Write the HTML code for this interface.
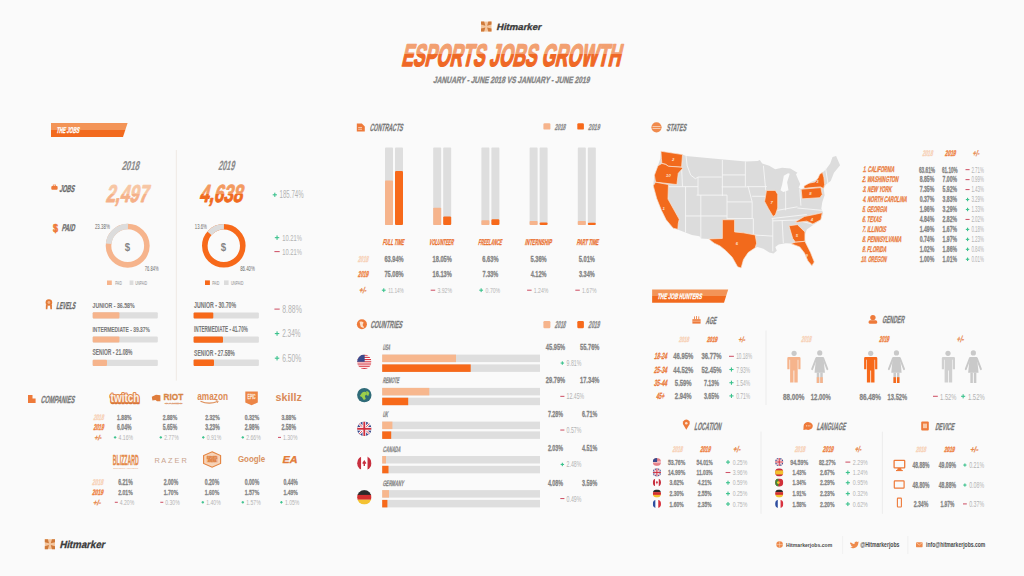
<!DOCTYPE html>
<html><head><meta charset="utf-8"><title>Esports Jobs Growth</title>
<style>
html,body{margin:0;padding:0;background:#fafafa;}
body{width:1024px;height:576px;overflow:hidden;}
svg{display:block;font-family:"Liberation Sans", sans-serif;}
</style></head><body>
<svg width="1024" height="576" viewBox="0 0 1024 576">
<rect x="0" y="0" width="1024" height="576" fill="#fafafa" />
<defs>
<linearGradient id="gTitle" gradientUnits="userSpaceOnUse" x1="0" y1="43" x2="0" y2="67">
<stop offset="0" stop-color="#f2a071"/><stop offset="0.46" stop-color="#f2a071"/><stop offset="0.46" stop-color="#ef6826"/><stop offset="1" stop-color="#ef6826"/></linearGradient>
<linearGradient id="gBan1" gradientUnits="userSpaceOnUse" x1="0" y1="123" x2="0" y2="137">
<stop offset="0" stop-color="#f39457"/><stop offset="0.48" stop-color="#f39457"/><stop offset="0.48" stop-color="#f26a1e"/><stop offset="1" stop-color="#f26a1e"/></linearGradient>
<linearGradient id="gBan2" gradientUnits="userSpaceOnUse" x1="0" y1="289.4" x2="0" y2="302.8">
<stop offset="0" stop-color="#f39457"/><stop offset="0.48" stop-color="#f39457"/><stop offset="0.48" stop-color="#f26a1e"/><stop offset="1" stop-color="#f26a1e"/></linearGradient>
<linearGradient id="g2497" gradientUnits="userSpaceOnUse" x1="0" y1="184" x2="0" y2="203">
<stop offset="0" stop-color="#f7c6a4"/><stop offset="0.5" stop-color="#f7c6a4"/><stop offset="0.5" stop-color="#f5b088"/><stop offset="1" stop-color="#f5b088"/></linearGradient>
<linearGradient id="g4638" gradientUnits="userSpaceOnUse" x1="0" y1="184" x2="0" y2="203">
<stop offset="0" stop-color="#f39a60"/><stop offset="0.5" stop-color="#f39a60"/><stop offset="0.5" stop-color="#f06a20"/><stop offset="1" stop-color="#f06a20"/></linearGradient>
</defs>
<rect x="481" y="21.6" width="10.5" height="10" fill="#f4c7a0" />
<polygon points="481,21.6 484.15,21.6 485.35,25.7 481,24.6" fill="#cf7a3a" />
<polygon points="491.5,21.6 488.35,21.6 487.15,25.7 491.5,24.6" fill="#cf7a3a" />
<polygon points="481,31.6 484.15,31.6 485.35,27.5 481,28.6" fill="#cf7a3a" />
<polygon points="491.5,31.6 488.35,31.6 487.15,27.5 491.5,28.6" fill="#cf7a3a" />
<text x="496.2" y="29.8" font-size="9.24" textLength="44.84" lengthAdjust="spacingAndGlyphs" fill="#3b3b3b" style="font-weight:bold" transform="matrix(1,0,-0.23,1,6.85,0)"  stroke="#3b3b3b" stroke-width="0.3" stroke-linejoin="round">Hitmarker</text>
<text x="401" y="66.4" font-size="31.21" textLength="219.09" lengthAdjust="spacingAndGlyphs" fill="url(#gTitle)" style="font-weight:bold" transform="matrix(1,0,-0.23,1,15.27,0)" stroke="url(#gTitle)" stroke-width="1.6" stroke-linejoin="round">ESPORTS JOBS GROWTH</text>
<text x="433.1" y="83.4" font-size="9.21" textLength="156.26" lengthAdjust="spacingAndGlyphs" fill="#858585" style="font-weight:bold" transform="matrix(1,0,-0.23,1,19.18,0)" stroke="#858585" stroke-width="0.35">JANUARY - JUNE 2018 VS JANUARY - JUNE 2019</text>
<polygon points="51,123 127.6,123 123,137 51,137" fill="url(#gBan1)" />
<text x="56.3" y="133" font-size="8.5" textLength="22.62" lengthAdjust="spacingAndGlyphs" fill="#ffffff" style="font-weight:bold" transform="matrix(1,0,-0.23,1,30.59,0)"  stroke="#ffffff" stroke-width="0.3" stroke-linejoin="round">THE JOBS</text>
<line x1="176.3" y1="150" x2="176.3" y2="380.6" stroke="#efe9e4" stroke-width="1"/>
<text x="121.4" y="170.1" font-size="12.79" textLength="17.57" lengthAdjust="spacingAndGlyphs" fill="#8a8a8a" style="font-weight:bold" transform="matrix(1,0,-0.23,1,39.12,0)"  stroke="#8a8a8a" stroke-width="0.15" stroke-linejoin="round">2018</text>
<text x="217.9" y="170" font-size="13.21" textLength="16.34" lengthAdjust="spacingAndGlyphs" fill="#8a8a8a" style="font-weight:bold" transform="matrix(1,0,-0.23,1,39.1,0)"  stroke="#8a8a8a" stroke-width="0.15" stroke-linejoin="round">2019</text>
<rect x="51.3" y="186" width="6.3" height="3.8" fill="#ee7a3a" rx="1" />
<rect x="53.2" y="185" width="2.5" height="1.6" fill="none" stroke="#ee7a3a" stroke-width="0.7"/>
<text x="59.2" y="191.8" font-size="9.93" textLength="15" lengthAdjust="spacingAndGlyphs" fill="#6a6a6a" style="font-weight:bold" transform="matrix(1,0,-0.23,1,44.11,0)"  stroke="#6a6a6a" stroke-width="0.3" stroke-linejoin="round">JOBS</text>
<text x="105.4" y="201.9" font-size="24.36" textLength="42.52" lengthAdjust="spacingAndGlyphs" fill="url(#g2497)" style="font-weight:bold" transform="matrix(1,0,-0.23,1,46.44,0)" stroke="url(#g2497)" stroke-width="0.9" stroke-linejoin="round">2,497</text>
<text x="199.1" y="202.2" font-size="24.79" textLength="43.08" lengthAdjust="spacingAndGlyphs" fill="url(#g4638)" style="font-weight:bold" transform="matrix(1,0,-0.23,1,46.51,0)" stroke="url(#g4638)" stroke-width="0.9" stroke-linejoin="round">4,638</text>
<rect x="272.7" y="194.25" width="4.2" height="1.1" fill="#3cc28d" />
<rect x="274.25" y="192.7" width="1.1" height="4.2" fill="#3cc28d" />
<text x="279.6" y="198.4" font-size="10.36" textLength="24" lengthAdjust="spacingAndGlyphs" fill="#b3b3b3" style="font-weight:normal" >185.74%</text>
<text x="53" y="231.8" font-size="10.31" textLength="5" lengthAdjust="spacingAndGlyphs" fill="#ee7a3a" style="font-weight:bold"  stroke="#ee7a3a" stroke-width="0.6" stroke-linejoin="round">$</text>
<text x="61.4" y="231.4" font-size="9.93" textLength="13.1" lengthAdjust="spacingAndGlyphs" fill="#6a6a6a" style="font-weight:bold" transform="matrix(1,0,-0.23,1,53.22,0)"  stroke="#6a6a6a" stroke-width="0.3" stroke-linejoin="round">PAID</text>
<circle cx="127.7" cy="245.7" r="19.2" fill="none" stroke="#f6b48c" stroke-width="5.6"/>
<circle cx="127.7" cy="245.7" r="19.2" fill="none" stroke="#dcdcdc" stroke-width="5.6" stroke-dasharray="28.2 120.64" transform="rotate(-174.17 127.7 245.7)"/>
<text x="124.8" y="250.8" font-size="11.06" textLength="5.4" lengthAdjust="spacingAndGlyphs" fill="#858585" style="font-weight:bold" >$</text>
<text x="94.9" y="228.7" font-size="6.64" textLength="14.9" lengthAdjust="spacingAndGlyphs" fill="#6a6a6a" style="font-weight:normal" >23.38%</text>
<text x="144.8" y="270.9" font-size="6.93" textLength="13.7" lengthAdjust="spacingAndGlyphs" fill="#6a6a6a" style="font-weight:normal" >76.84%</text>
<rect x="107" y="280.5" width="4.8" height="4.5" fill="#f6b48c" />
<text x="115.2" y="284.7" font-size="5.07" textLength="6.6" lengthAdjust="spacingAndGlyphs" fill="#8a8a8a" style="font-weight:normal" >PAID</text>
<rect x="129.6" y="280.5" width="3.8" height="4.5" fill="#dcdcdc" />
<text x="135.2" y="284.7" font-size="5.07" textLength="12" lengthAdjust="spacingAndGlyphs" fill="#8a8a8a" style="font-weight:normal" >UNPAID</text>
<circle cx="223.8" cy="245.8" r="19" fill="none" stroke="#f7691a" stroke-width="5.6"/>
<circle cx="223.8" cy="245.8" r="19" fill="none" stroke="#dcdcdc" stroke-width="5.6" stroke-dasharray="16.24 119.38" transform="rotate(-138.96 223.8 245.8)"/>
<text x="220.8" y="250.8" font-size="11.06" textLength="5.4" lengthAdjust="spacingAndGlyphs" fill="#858585" style="font-weight:bold" >$</text>
<text x="194.8" y="229" font-size="6.93" textLength="12" lengthAdjust="spacingAndGlyphs" fill="#6a6a6a" style="font-weight:normal" >13.6%</text>
<text x="240.2" y="271" font-size="6.93" textLength="14.6" lengthAdjust="spacingAndGlyphs" fill="#6a6a6a" style="font-weight:normal" >86.40%</text>
<rect x="205" y="280.4" width="4.9" height="4.6" fill="#f7691a" />
<text x="212.2" y="284.7" font-size="5.07" textLength="7.2" lengthAdjust="spacingAndGlyphs" fill="#8a8a8a" style="font-weight:normal" >PAID</text>
<rect x="224" y="280.4" width="4.6" height="4.6" fill="#dcdcdc" />
<text x="230.9" y="284.7" font-size="5.07" textLength="12.5" lengthAdjust="spacingAndGlyphs" fill="#8a8a8a" style="font-weight:normal" >UNPAID</text>
<rect x="274.82" y="237.1" width="4.45" height="1.1" fill="#3cc28d" />
<rect x="276.5" y="235.42" width="1.1" height="4.45" fill="#3cc28d" />
<text x="282.2" y="240.7" font-size="8.79" textLength="19.6" lengthAdjust="spacingAndGlyphs" fill="#b3b3b3" style="font-weight:normal" >10.21%</text>
<rect x="274.4" y="251.07" width="5.3" height="1.05" fill="#cf5468" />
<text x="282.2" y="255" font-size="9.79" textLength="19.6" lengthAdjust="spacingAndGlyphs" fill="#b3b3b3" style="font-weight:normal" >10.21%</text>
<polygon points="45.9,304.5 47.8,305.2 47.4,309.3 45.8,309.3" fill="#df7a3a" />
<polygon points="51.9,304.5 50,305.2 50.4,309.3 52,309.3" fill="#df7a3a" />
<circle cx="48.9" cy="302.5" r="3.3" fill="#e37b38" />
<circle cx="48.9" cy="302.5" r="1.4" fill="#f6b58a" />
<text x="56.1" y="308.7" font-size="10.07" textLength="18.89" lengthAdjust="spacingAndGlyphs" fill="#6a6a6a" style="font-weight:bold" transform="matrix(1,0,-0.23,1,71,0)"  stroke="#6a6a6a" stroke-width="0.3" stroke-linejoin="round">LEVELS</text>
<text x="92.5" y="307.8" font-size="8.07" textLength="42.1" lengthAdjust="spacingAndGlyphs" fill="#7a7a7a" style="font-weight:bold"  stroke="#7a7a7a" stroke-width="0.1" stroke-linejoin="round">JUNIOR - 36.58%</text>
<rect x="92.7" y="312.2" width="65.1" height="6.2" fill="#dedede" rx="1" />
<rect x="92.7" y="312.2" width="26.7" height="6.2" fill="#f6b48c" rx="1" />
<text x="92.5" y="331.8" font-size="8.07" textLength="57.3" lengthAdjust="spacingAndGlyphs" fill="#7a7a7a" style="font-weight:bold"  stroke="#7a7a7a" stroke-width="0.1" stroke-linejoin="round">INTERMEDIATE - 39.37%</text>
<rect x="92.7" y="336.4" width="65.1" height="6.2" fill="#dedede" rx="1" />
<rect x="92.7" y="336.4" width="26.7" height="6.2" fill="#f6b48c" rx="1" />
<text x="92.5" y="355.4" font-size="8.64" textLength="40" lengthAdjust="spacingAndGlyphs" fill="#7a7a7a" style="font-weight:bold"  stroke="#7a7a7a" stroke-width="0.1" stroke-linejoin="round">SENIOR - 21.08%</text>
<rect x="92.7" y="359.8" width="65.1" height="6.2" fill="#dedede" rx="1" />
<rect x="92.7" y="359.8" width="14.3" height="6.2" fill="#f6b48c" rx="1" />
<text x="194.1" y="308.2" font-size="8.36" textLength="42" lengthAdjust="spacingAndGlyphs" fill="#7a7a7a" style="font-weight:bold"  stroke="#7a7a7a" stroke-width="0.1" stroke-linejoin="round">JUNIOR - 30.70%</text>
<rect x="193.6" y="312.4" width="65.3" height="6.2" fill="#dedede" rx="1" />
<rect x="193.6" y="312.4" width="19.7" height="6.2" fill="#f7691a" rx="1" />
<text x="194.1" y="331.8" font-size="8.36" textLength="53.7" lengthAdjust="spacingAndGlyphs" fill="#7a7a7a" style="font-weight:bold"  stroke="#7a7a7a" stroke-width="0.1" stroke-linejoin="round">INTERMEDIATE - 41.70%</text>
<rect x="193.6" y="336.4" width="65.3" height="6.4" fill="#dedede" rx="1" />
<rect x="193.6" y="336.4" width="29.4" height="6.4" fill="#f7691a" rx="1" />
<text x="194.1" y="355.6" font-size="8.64" textLength="40.6" lengthAdjust="spacingAndGlyphs" fill="#7a7a7a" style="font-weight:bold"  stroke="#7a7a7a" stroke-width="0.1" stroke-linejoin="round">SENIOR - 27.58%</text>
<rect x="193.6" y="359.6" width="65.3" height="6.4" fill="#dedede" rx="1" />
<rect x="193.6" y="359.6" width="20.4" height="6.4" fill="#f7691a" rx="1" />
<rect x="274.4" y="308.58" width="5.3" height="1.05" fill="#cf5468" />
<text x="282.2" y="312.6" font-size="10.07" textLength="19.6" lengthAdjust="spacingAndGlyphs" fill="#b3b3b3" style="font-weight:normal" >8.88%</text>
<rect x="274.82" y="333" width="4.45" height="1.1" fill="#3cc28d" />
<rect x="276.5" y="331.32" width="1.1" height="4.45" fill="#3cc28d" />
<text x="282.2" y="337.2" font-size="10.5" textLength="18.4" lengthAdjust="spacingAndGlyphs" fill="#b3b3b3" style="font-weight:normal" >2.34%</text>
<rect x="274.82" y="357.65" width="4.45" height="1.1" fill="#3cc28d" />
<rect x="276.5" y="355.97" width="1.1" height="4.45" fill="#3cc28d" />
<text x="282.2" y="361.8" font-size="10.36" textLength="19.1" lengthAdjust="spacingAndGlyphs" fill="#b3b3b3" style="font-weight:normal" >6.50%</text>
<rect x="28" y="395" width="4.5" height="8" fill="#ee7a3a" />
<rect x="32" y="398.5" width="3.6" height="4.5" fill="#ee7a3a" />
<text x="40.5" y="403" font-size="10.36" textLength="33.67" lengthAdjust="spacingAndGlyphs" fill="#7a7a7a" style="font-weight:bold" transform="matrix(1,0,-0.23,1,92.69,0)"  stroke="#7a7a7a" stroke-width="0.3" stroke-linejoin="round">COMPANIES</text>
<text x="110.6" y="403.3" font-size="12.2" textLength="28.8" lengthAdjust="spacingAndGlyphs" fill="#d8753a" stroke="#d8753a" stroke-width="2.6" stroke-linejoin="round" style="font-weight:bold">twitch</text>
<text x="110.6" y="402.2" font-size="12.2" textLength="28.8" lengthAdjust="spacingAndGlyphs" fill="#fcf1e8" stroke="#e38a4f" stroke-width="2.2" stroke-linejoin="round" style="font-weight:bold" paint-order="stroke">twitch</text>
<polygon points="151.8,396.8 156,394.8 160.4,395.2 160.4,401.2 157,401.2 155.5,400 152.4,400.4" fill="#df7d3c" />
<text x="163.6" y="400.4" font-size="8.36" textLength="19.6" lengthAdjust="spacingAndGlyphs" fill="#d88547" style="font-weight:bold"  stroke="#d88547" stroke-width="0.3" stroke-linejoin="round">RIOT</text>
<text x="164.8" y="404.2" font-size="2.07" textLength="17.6" lengthAdjust="spacingAndGlyphs" fill="#e0a27b" style="font-weight:bold"  stroke="#e0a27b" stroke-width="0.3" stroke-linejoin="round">GAMES</text>
<text x="197.2" y="400.2" font-size="10.2" textLength="30.8" lengthAdjust="spacingAndGlyphs" fill="#dd8c55" style="font-weight:bold">amazon</text>
<path d="M200.5 401.2 Q209 405 217.5 401.4" fill="none" stroke="#dd8c55" stroke-width="1.1"/>
<path d="M215.8 400.6 L218.2 401.2 L217.3 403" fill="none" stroke="#dd8c55" stroke-width="0.8"/>
<polygon points="245.3,391.4 257.8,391.4 257.8,402.4 251.55,405.3 245.3,402.4" fill="#ec8546" />
<text x="247.6" y="399.2" font-size="6.36" textLength="8" lengthAdjust="spacingAndGlyphs" fill="#fbe3d2" style="font-weight:bold"  stroke="#fbe3d2" stroke-width="0.3" stroke-linejoin="round">EPIC</text>
<text x="275.4" y="401.1" font-size="10.6" textLength="26.4" lengthAdjust="spacingAndGlyphs" fill="#d98b58" style="font-weight:bold">skillz</text>
<text x="93.2" y="420.4" font-size="7.93" textLength="10.36" lengthAdjust="spacingAndGlyphs" fill="#f7d2b8" style="font-weight:bold" transform="matrix(1,0,-0.23,1,96.69,0)"  stroke="#f7d2b8" stroke-width="0.4" stroke-linejoin="round">2018</text>
<text x="93.2" y="430.1" font-size="8.5" textLength="10.32" lengthAdjust="spacingAndGlyphs" fill="#ee8446" style="font-weight:bold" transform="matrix(1,0,-0.23,1,98.92,0)"  stroke="#ee8446" stroke-width="0.45" stroke-linejoin="round">2019</text>
<text x="94.2" y="439.8" font-size="7.07" textLength="7.03" lengthAdjust="spacingAndGlyphs" fill="#e8894e" style="font-weight:bold" transform="matrix(1,0,-0.23,1,101.15,0)"  stroke="#e8894e" stroke-width="0.3" stroke-linejoin="round">+/-</text>
<text x="117.1" y="420.3" font-size="7.93" textLength="14.4" lengthAdjust="spacingAndGlyphs" fill="#858585" style="font-weight:bold"  stroke="#858585" stroke-width="0.3" stroke-linejoin="round">1.88%</text>
<text x="117.1" y="429.9" font-size="8.64" textLength="14.4" lengthAdjust="spacingAndGlyphs" fill="#858585" style="font-weight:bold"  stroke="#858585" stroke-width="0.3" stroke-linejoin="round">6.04%</text>
<rect x="113.84" y="436.85" width="2.52" height="1.1" fill="#3cc28d" />
<rect x="114.55" y="436.14" width="1.1" height="2.52" fill="#3cc28d" />
<text x="118.6" y="440.2" font-size="8.07" textLength="14.4" lengthAdjust="spacingAndGlyphs" fill="#b3b3b3" style="font-weight:normal" >4.16%</text>
<text x="162.8" y="420.3" font-size="7.93" textLength="14.4" lengthAdjust="spacingAndGlyphs" fill="#858585" style="font-weight:bold"  stroke="#858585" stroke-width="0.3" stroke-linejoin="round">2.88%</text>
<text x="162.8" y="429.9" font-size="8.64" textLength="14.4" lengthAdjust="spacingAndGlyphs" fill="#858585" style="font-weight:bold"  stroke="#858585" stroke-width="0.3" stroke-linejoin="round">5.65%</text>
<rect x="159.54" y="436.85" width="2.52" height="1.1" fill="#3cc28d" />
<rect x="160.25" y="436.14" width="1.1" height="2.52" fill="#3cc28d" />
<text x="164.3" y="440.2" font-size="8.07" textLength="14.4" lengthAdjust="spacingAndGlyphs" fill="#b3b3b3" style="font-weight:normal" >2.77%</text>
<text x="205.3" y="420.3" font-size="7.93" textLength="14.4" lengthAdjust="spacingAndGlyphs" fill="#858585" style="font-weight:bold"  stroke="#858585" stroke-width="0.3" stroke-linejoin="round">2.32%</text>
<text x="205.3" y="429.9" font-size="8.64" textLength="14.4" lengthAdjust="spacingAndGlyphs" fill="#858585" style="font-weight:bold"  stroke="#858585" stroke-width="0.3" stroke-linejoin="round">3.23%</text>
<rect x="202.04" y="436.85" width="2.52" height="1.1" fill="#3cc28d" />
<rect x="202.75" y="436.14" width="1.1" height="2.52" fill="#3cc28d" />
<text x="206.8" y="440.2" font-size="8.07" textLength="14.4" lengthAdjust="spacingAndGlyphs" fill="#b3b3b3" style="font-weight:normal" >0.91%</text>
<text x="244.8" y="420.3" font-size="7.93" textLength="14.4" lengthAdjust="spacingAndGlyphs" fill="#858585" style="font-weight:bold"  stroke="#858585" stroke-width="0.3" stroke-linejoin="round">0.32%</text>
<text x="244.8" y="429.9" font-size="8.64" textLength="14.4" lengthAdjust="spacingAndGlyphs" fill="#858585" style="font-weight:bold"  stroke="#858585" stroke-width="0.3" stroke-linejoin="round">2.98%</text>
<rect x="241.54" y="436.85" width="2.52" height="1.1" fill="#3cc28d" />
<rect x="242.25" y="436.14" width="1.1" height="2.52" fill="#3cc28d" />
<text x="246.3" y="440.2" font-size="8.07" textLength="14.4" lengthAdjust="spacingAndGlyphs" fill="#b3b3b3" style="font-weight:normal" >2.66%</text>
<text x="281.5" y="420.3" font-size="7.93" textLength="14.4" lengthAdjust="spacingAndGlyphs" fill="#858585" style="font-weight:bold"  stroke="#858585" stroke-width="0.3" stroke-linejoin="round">3.88%</text>
<text x="281.5" y="429.9" font-size="8.64" textLength="14.4" lengthAdjust="spacingAndGlyphs" fill="#858585" style="font-weight:bold"  stroke="#858585" stroke-width="0.3" stroke-linejoin="round">2.58%</text>
<rect x="278" y="436.88" width="3" height="1.05" fill="#cf5468" />
<text x="283" y="440.2" font-size="8.07" textLength="14.4" lengthAdjust="spacingAndGlyphs" fill="#b3b3b3" style="font-weight:normal" >1.30%</text>
<text x="112.8" y="465.4" font-size="14.93" textLength="26" lengthAdjust="spacingAndGlyphs" fill="#e58a4c" style="font-weight:bold"  stroke="#e58a4c" stroke-width="0.3" stroke-linejoin="round">BLIZZARD</text>
<text x="113.2" y="468.7" font-size="2.07" textLength="25.2" lengthAdjust="spacingAndGlyphs" fill="#eab08c" style="font-weight:normal" >ENTERTAINMENT</text>
<text x="154.4" y="462.9" font-size="7.21" textLength="32.4" lengthAdjust="spacingAndGlyphs" fill="#c9a38c" style="font-weight:normal" >R A Z E R</text>
<polygon points="212.1,451.8 220.6,455.6 220.6,463.4 212.1,467.2 203.6,463.4 203.6,455.6" fill="#f7d3b8" stroke="#e3833f" stroke-width="1.1"/>
<rect x="206.2" y="456.4" width="11.8" height="6.2" fill="#f4c29e" />
<text x="207" y="459" font-size="2.64" textLength="10.2" lengthAdjust="spacingAndGlyphs" fill="#e0803f" style="font-weight:bold"  stroke="#e0803f" stroke-width="0.3" stroke-linejoin="round">ESPORTS</text>
<text x="207.8" y="462" font-size="2.64" textLength="8.6" lengthAdjust="spacingAndGlyphs" fill="#e0803f" style="font-weight:bold"  stroke="#e0803f" stroke-width="0.3" stroke-linejoin="round">ARENA</text>
<text x="237.9" y="462.3" font-size="9.8" textLength="27.3" lengthAdjust="spacingAndGlyphs" fill="#d9925f" style="font-weight:bold">Google</text>
<text x="282.1" y="463.4" font-size="10.07" textLength="14.89" lengthAdjust="spacingAndGlyphs" fill="#e27a38" style="font-weight:bold" transform="matrix(1,0,-0.23,1,106.58,0)"  stroke="#e27a38" stroke-width="0.3" stroke-linejoin="round">EA</text>
<text x="92.1" y="485" font-size="8.36" textLength="10.83" lengthAdjust="spacingAndGlyphs" fill="#f7d2b8" style="font-weight:bold" transform="matrix(1,0,-0.23,1,111.55,0)"  stroke="#f7d2b8" stroke-width="0.4" stroke-linejoin="round">2018</text>
<text x="92.1" y="494.8" font-size="8.07" textLength="10.85" lengthAdjust="spacingAndGlyphs" fill="#ee8446" style="font-weight:bold" transform="matrix(1,0,-0.23,1,113.8,0)"  stroke="#ee8446" stroke-width="0.45" stroke-linejoin="round">2019</text>
<text x="93.1" y="504.8" font-size="7.21" textLength="7.52" lengthAdjust="spacingAndGlyphs" fill="#e8894e" style="font-weight:bold" transform="matrix(1,0,-0.23,1,116.1,0)"  stroke="#e8894e" stroke-width="0.3" stroke-linejoin="round">+/-</text>
<text x="118.3" y="485" font-size="8.36" textLength="14.4" lengthAdjust="spacingAndGlyphs" fill="#858585" style="font-weight:bold"  stroke="#858585" stroke-width="0.3" stroke-linejoin="round">6.21%</text>
<text x="118.3" y="494.8" font-size="8.07" textLength="14.4" lengthAdjust="spacingAndGlyphs" fill="#858585" style="font-weight:bold"  stroke="#858585" stroke-width="0.3" stroke-linejoin="round">2.01%</text>
<rect x="114.8" y="501.77" width="3" height="1.05" fill="#cf5468" />
<text x="119.8" y="505" font-size="7.79" textLength="14.4" lengthAdjust="spacingAndGlyphs" fill="#b3b3b3" style="font-weight:normal" >4.20%</text>
<text x="163.8" y="485" font-size="8.36" textLength="14.4" lengthAdjust="spacingAndGlyphs" fill="#858585" style="font-weight:bold"  stroke="#858585" stroke-width="0.3" stroke-linejoin="round">2.00%</text>
<text x="163.8" y="494.8" font-size="8.07" textLength="14.4" lengthAdjust="spacingAndGlyphs" fill="#858585" style="font-weight:bold"  stroke="#858585" stroke-width="0.3" stroke-linejoin="round">1.70%</text>
<rect x="160.3" y="501.77" width="3" height="1.05" fill="#cf5468" />
<text x="165.3" y="505" font-size="7.79" textLength="14.4" lengthAdjust="spacingAndGlyphs" fill="#b3b3b3" style="font-weight:normal" >0.30%</text>
<text x="204.8" y="485" font-size="8.36" textLength="14.4" lengthAdjust="spacingAndGlyphs" fill="#858585" style="font-weight:bold"  stroke="#858585" stroke-width="0.3" stroke-linejoin="round">0.20%</text>
<text x="204.8" y="494.8" font-size="8.07" textLength="14.4" lengthAdjust="spacingAndGlyphs" fill="#858585" style="font-weight:bold"  stroke="#858585" stroke-width="0.3" stroke-linejoin="round">1.60%</text>
<rect x="201.54" y="501.75" width="2.52" height="1.1" fill="#3cc28d" />
<rect x="202.25" y="501.04" width="1.1" height="2.52" fill="#3cc28d" />
<text x="206.3" y="505" font-size="7.79" textLength="14.4" lengthAdjust="spacingAndGlyphs" fill="#b3b3b3" style="font-weight:normal" >1.40%</text>
<text x="244.8" y="485" font-size="8.36" textLength="14.4" lengthAdjust="spacingAndGlyphs" fill="#858585" style="font-weight:bold"  stroke="#858585" stroke-width="0.3" stroke-linejoin="round">0.00%</text>
<text x="244.8" y="494.8" font-size="8.07" textLength="14.4" lengthAdjust="spacingAndGlyphs" fill="#858585" style="font-weight:bold"  stroke="#858585" stroke-width="0.3" stroke-linejoin="round">1.57%</text>
<rect x="241.54" y="501.75" width="2.52" height="1.1" fill="#3cc28d" />
<rect x="242.25" y="501.04" width="1.1" height="2.52" fill="#3cc28d" />
<text x="246.3" y="505" font-size="7.79" textLength="14.4" lengthAdjust="spacingAndGlyphs" fill="#b3b3b3" style="font-weight:normal" >1.57%</text>
<text x="283.4" y="485" font-size="8.36" textLength="14.4" lengthAdjust="spacingAndGlyphs" fill="#858585" style="font-weight:bold"  stroke="#858585" stroke-width="0.3" stroke-linejoin="round">0.44%</text>
<text x="283.4" y="494.8" font-size="8.07" textLength="14.4" lengthAdjust="spacingAndGlyphs" fill="#858585" style="font-weight:bold"  stroke="#858585" stroke-width="0.3" stroke-linejoin="round">1.49%</text>
<rect x="280.14" y="501.75" width="2.52" height="1.1" fill="#3cc28d" />
<rect x="280.85" y="501.04" width="1.1" height="2.52" fill="#3cc28d" />
<text x="284.9" y="505" font-size="7.79" textLength="14.4" lengthAdjust="spacingAndGlyphs" fill="#b3b3b3" style="font-weight:normal" >1.05%</text>
<polygon points="356.8,123.4 361.8,123.4 364.8,126.4 364.8,131.4 356.8,131.4" fill="#ee7a3a" />
<rect x="358.2" y="127" width="3.8" height="0.8" fill="#fbd9c4" />
<rect x="358.2" y="128.8" width="3.8" height="0.8" fill="#fbd9c4" />
<text x="369.5" y="131.4" font-size="10.5" textLength="33.15" lengthAdjust="spacingAndGlyphs" fill="#7a7a7a" style="font-weight:bold" transform="matrix(1,0,-0.23,1,30.22,0)"  stroke="#7a7a7a" stroke-width="0.3" stroke-linejoin="round">CONTRACTS</text>
<rect x="543.4" y="123.3" width="7" height="6.3" fill="#f6b48c" rx="1.2" />
<text x="554.6" y="129.6" font-size="8.79" textLength="10.69" lengthAdjust="spacingAndGlyphs" fill="#8a8a8a" style="font-weight:bold" transform="matrix(1,0,-0.23,1,29.81,0)"  stroke="#8a8a8a" stroke-width="0.3" stroke-linejoin="round">2018</text>
<rect x="577.3" y="123.3" width="6.6" height="6.3" fill="#f7691a" rx="1.2" />
<text x="588.1" y="129.6" font-size="8.79" textLength="11.39" lengthAdjust="spacingAndGlyphs" fill="#8a8a8a" style="font-weight:bold" transform="matrix(1,0,-0.23,1,29.81,0)"  stroke="#8a8a8a" stroke-width="0.3" stroke-linejoin="round">2019</text>
<rect x="385" y="147.6" width="8" height="77.4" fill="#dedede" rx="0.8" />
<rect x="395" y="147.6" width="8" height="77.4" fill="#dedede" rx="0.8" />
<rect x="385" y="180.5" width="8" height="44.5" fill="#f6b48c" rx="0.8" />
<rect x="395" y="171" width="8" height="54" fill="#f7691a" rx="1.2" />
<text x="382.6" y="245" font-size="8.36" textLength="21.13" lengthAdjust="spacingAndGlyphs" fill="#ea7130" style="font-weight:bold" transform="matrix(1,0,-0.23,1,56.35,0)"  stroke="#ea7130" stroke-width="0.3" stroke-linejoin="round">FULL TIME</text>
<rect x="433.2" y="147.6" width="8" height="77.4" fill="#dedede" rx="0.8" />
<rect x="443.2" y="147.6" width="8" height="77.4" fill="#dedede" rx="0.8" />
<rect x="433.2" y="207.8" width="8" height="17.2" fill="#f6b48c" rx="0.8" />
<rect x="443.2" y="216.4" width="8" height="8.6" fill="#f7691a" rx="1.2" />
<text x="429" y="245" font-size="8.36" textLength="24.33" lengthAdjust="spacingAndGlyphs" fill="#ea7130" style="font-weight:bold" transform="matrix(1,0,-0.23,1,56.35,0)"  stroke="#ea7130" stroke-width="0.3" stroke-linejoin="round">VOLUNTEER</text>
<rect x="481.4" y="147.6" width="8" height="77.4" fill="#dedede" rx="0.8" />
<rect x="491.4" y="147.6" width="8" height="77.4" fill="#dedede" rx="0.8" />
<rect x="481.4" y="220.2" width="8" height="4.8" fill="#f6b48c" rx="0.8" />
<rect x="491.4" y="219.3" width="8" height="5.7" fill="#f7691a" rx="1.2" />
<text x="478.1" y="245" font-size="8.36" textLength="23.43" lengthAdjust="spacingAndGlyphs" fill="#ea7130" style="font-weight:bold" transform="matrix(1,0,-0.23,1,56.35,0)"  stroke="#ea7130" stroke-width="0.3" stroke-linejoin="round">FREELANCE</text>
<rect x="529.6" y="147.6" width="8" height="77.4" fill="#dedede" rx="0.8" />
<rect x="539.6" y="147.6" width="8" height="77.4" fill="#dedede" rx="0.8" />
<rect x="529.6" y="221" width="8" height="4" fill="#f6b48c" rx="0.8" />
<rect x="539.6" y="222.4" width="8" height="2.6" fill="#f7691a" rx="1.2" />
<text x="524.8" y="245" font-size="8.36" textLength="26.53" lengthAdjust="spacingAndGlyphs" fill="#ea7130" style="font-weight:bold" transform="matrix(1,0,-0.23,1,56.35,0)"  stroke="#ea7130" stroke-width="0.3" stroke-linejoin="round">INTERNSHIP</text>
<rect x="577.8" y="147.6" width="8" height="77.4" fill="#dedede" rx="0.8" />
<rect x="587.8" y="147.6" width="8" height="77.4" fill="#dedede" rx="0.8" />
<rect x="577.8" y="221" width="8" height="4" fill="#f6b48c" rx="0.8" />
<rect x="587.8" y="222.8" width="8" height="2.2" fill="#f7691a" rx="1.2" />
<text x="576.4" y="245" font-size="8.36" textLength="21.93" lengthAdjust="spacingAndGlyphs" fill="#ea7130" style="font-weight:bold" transform="matrix(1,0,-0.23,1,56.35,0)"  stroke="#ea7130" stroke-width="0.3" stroke-linejoin="round">PART TIME</text>
<text x="357.8" y="262.4" font-size="8.64" textLength="10.3" lengthAdjust="spacingAndGlyphs" fill="#f7d2b8" style="font-weight:bold" transform="matrix(1,0,-0.23,1,60.35,0)"  stroke="#f7d2b8" stroke-width="0.4" stroke-linejoin="round">2018</text>
<text x="357.8" y="277.4" font-size="8.64" textLength="10.3" lengthAdjust="spacingAndGlyphs" fill="#ee8446" style="font-weight:bold" transform="matrix(1,0,-0.23,1,63.8,0)"  stroke="#ee8446" stroke-width="0.45" stroke-linejoin="round">2019</text>
<text x="358.9" y="293" font-size="8.36" textLength="7.13" lengthAdjust="spacingAndGlyphs" fill="#e8894e" style="font-weight:bold" transform="matrix(1,0,-0.23,1,67.39,0)"  stroke="#e8894e" stroke-width="0.3" stroke-linejoin="round">+/-</text>
<text x="384.4" y="262.3" font-size="8.21" textLength="19.2" lengthAdjust="spacingAndGlyphs" fill="#858585" style="font-weight:bold"  stroke="#858585" stroke-width="0.3" stroke-linejoin="round">63.94%</text>
<text x="384.4" y="277.3" font-size="8.21" textLength="19.2" lengthAdjust="spacingAndGlyphs" fill="#858585" style="font-weight:bold"  stroke="#858585" stroke-width="0.3" stroke-linejoin="round">75.08%</text>
<rect x="381.86" y="289.65" width="3.78" height="1.1" fill="#3cc28d" />
<rect x="383.2" y="288.31" width="1.1" height="3.78" fill="#3cc28d" />
<text x="388.2" y="293" font-size="8.07" textLength="15.6" lengthAdjust="spacingAndGlyphs" fill="#b3b3b3" style="font-weight:normal" >11.14%</text>
<text x="432.6" y="262.3" font-size="8.21" textLength="19.2" lengthAdjust="spacingAndGlyphs" fill="#858585" style="font-weight:bold"  stroke="#858585" stroke-width="0.3" stroke-linejoin="round">18.05%</text>
<text x="432.6" y="277.3" font-size="8.21" textLength="19.2" lengthAdjust="spacingAndGlyphs" fill="#858585" style="font-weight:bold"  stroke="#858585" stroke-width="0.3" stroke-linejoin="round">16.13%</text>
<rect x="430.7" y="289.68" width="4.5" height="1.05" fill="#cf5468" />
<text x="437.4" y="293" font-size="8.07" textLength="14.6" lengthAdjust="spacingAndGlyphs" fill="#b3b3b3" style="font-weight:normal" >3.92%</text>
<text x="482.3" y="262.3" font-size="8.21" textLength="16.2" lengthAdjust="spacingAndGlyphs" fill="#858585" style="font-weight:bold"  stroke="#858585" stroke-width="0.3" stroke-linejoin="round">6.63%</text>
<text x="482.5" y="277.3" font-size="8.21" textLength="15.8" lengthAdjust="spacingAndGlyphs" fill="#858585" style="font-weight:bold"  stroke="#858585" stroke-width="0.3" stroke-linejoin="round">7.33%</text>
<rect x="479.26" y="289.65" width="3.78" height="1.1" fill="#3cc28d" />
<rect x="480.6" y="288.31" width="1.1" height="3.78" fill="#3cc28d" />
<text x="485.6" y="293" font-size="8.07" textLength="14.6" lengthAdjust="spacingAndGlyphs" fill="#b3b3b3" style="font-weight:normal" >0.70%</text>
<text x="530.5" y="262.3" font-size="8.21" textLength="16.2" lengthAdjust="spacingAndGlyphs" fill="#858585" style="font-weight:bold"  stroke="#858585" stroke-width="0.3" stroke-linejoin="round">5.36%</text>
<text x="530.7" y="277.3" font-size="8.21" textLength="15.8" lengthAdjust="spacingAndGlyphs" fill="#858585" style="font-weight:bold"  stroke="#858585" stroke-width="0.3" stroke-linejoin="round">4.12%</text>
<rect x="527.1" y="289.68" width="4.5" height="1.05" fill="#cf5468" />
<text x="533.8" y="293" font-size="8.07" textLength="14.6" lengthAdjust="spacingAndGlyphs" fill="#b3b3b3" style="font-weight:normal" >1.24%</text>
<text x="578.7" y="262.3" font-size="8.21" textLength="16.2" lengthAdjust="spacingAndGlyphs" fill="#858585" style="font-weight:bold"  stroke="#858585" stroke-width="0.3" stroke-linejoin="round">5.01%</text>
<text x="578.9" y="277.3" font-size="8.21" textLength="15.8" lengthAdjust="spacingAndGlyphs" fill="#858585" style="font-weight:bold"  stroke="#858585" stroke-width="0.3" stroke-linejoin="round">3.34%</text>
<rect x="575.3" y="289.68" width="4.5" height="1.05" fill="#cf5468" />
<text x="582" y="293" font-size="8.07" textLength="14.6" lengthAdjust="spacingAndGlyphs" fill="#b3b3b3" style="font-weight:normal" >1.67%</text>
<circle cx="361.9" cy="324.3" r="5" fill="#ee7a3a" />
<path d="M359.5 321.8 Q362 321 363.6 322.6 L362.6 325 L364.2 327.4 Q362 328.2 360.6 326.6 Z" fill="#fbe0cc"/>
<text x="370.2" y="328.3" font-size="10.21" textLength="31.58" lengthAdjust="spacingAndGlyphs" fill="#7a7a7a" style="font-weight:bold" transform="matrix(1,0,-0.23,1,75.51,0)"  stroke="#7a7a7a" stroke-width="0.3" stroke-linejoin="round">COUNTRIES</text>
<rect x="543.4" y="321.1" width="7" height="7.2" fill="#f6b48c" rx="1.2" />
<text x="554.6" y="328.3" font-size="10.07" textLength="10.59" lengthAdjust="spacingAndGlyphs" fill="#8a8a8a" style="font-weight:bold" transform="matrix(1,0,-0.23,1,75.51,0)"  stroke="#8a8a8a" stroke-width="0.3" stroke-linejoin="round">2018</text>
<rect x="577.3" y="321.1" width="6.6" height="7.2" fill="#f7691a" rx="1.2" />
<text x="588.1" y="328.3" font-size="10.07" textLength="11.29" lengthAdjust="spacingAndGlyphs" fill="#8a8a8a" style="font-weight:bold" transform="matrix(1,0,-0.23,1,75.51,0)"  stroke="#8a8a8a" stroke-width="0.3" stroke-linejoin="round">2019</text>
<text x="382.4" y="350.2" font-size="8.07" textLength="7.55" lengthAdjust="spacingAndGlyphs" fill="#858585" style="font-weight:bold" transform="matrix(1,0,-0.23,1,80.55,0)"  stroke="#858585" stroke-width="0.25" stroke-linejoin="round">USA</text>
<rect x="382.2" y="354.6" width="157.8" height="7.5" fill="#dedede" />
<rect x="382.2" y="354.6" width="73.8" height="7.5" fill="#f7b78e" />
<rect x="382.2" y="364.4" width="157.8" height="7.5" fill="#dedede" />
<rect x="382.2" y="364.4" width="88.5" height="7.5" fill="#f7691a" />
<text x="545.8" y="350" font-size="8.5" textLength="19.4" lengthAdjust="spacingAndGlyphs" fill="#858585" style="font-weight:bold"  stroke="#858585" stroke-width="0.3" stroke-linejoin="round">45.95%</text>
<text x="580" y="350" font-size="8.5" textLength="19.4" lengthAdjust="spacingAndGlyphs" fill="#858585" style="font-weight:bold"  stroke="#858585" stroke-width="0.3" stroke-linejoin="round">55.76%</text>
<rect x="560.63" y="362.5" width="3.44" height="1.1" fill="#3cc28d" />
<rect x="561.8" y="361.33" width="1.1" height="3.44" fill="#3cc28d" />
<text x="566.6" y="366" font-size="8.5" textLength="14.8" lengthAdjust="spacingAndGlyphs" fill="#b3b3b3" style="font-weight:normal" >9.81%</text>
<text x="382.4" y="383.5" font-size="8.07" textLength="16.55" lengthAdjust="spacingAndGlyphs" fill="#858585" style="font-weight:bold" transform="matrix(1,0,-0.23,1,88.2,0)"  stroke="#858585" stroke-width="0.25" stroke-linejoin="round">REMOTE</text>
<rect x="382.2" y="387.9" width="157.8" height="7.5" fill="#dedede" />
<rect x="382.2" y="387.9" width="47.1" height="7.5" fill="#f7b78e" />
<rect x="382.2" y="397.7" width="157.8" height="7.5" fill="#dedede" />
<rect x="382.2" y="397.7" width="26" height="7.5" fill="#f7691a" />
<text x="545.8" y="383.3" font-size="8.5" textLength="19.4" lengthAdjust="spacingAndGlyphs" fill="#858585" style="font-weight:bold"  stroke="#858585" stroke-width="0.3" stroke-linejoin="round">29.79%</text>
<text x="580" y="383.3" font-size="8.5" textLength="19.4" lengthAdjust="spacingAndGlyphs" fill="#858585" style="font-weight:bold"  stroke="#858585" stroke-width="0.3" stroke-linejoin="round">17.34%</text>
<rect x="560.3" y="395.83" width="4.1" height="1.05" fill="#cf5468" />
<text x="566.6" y="399.3" font-size="8.5" textLength="17.6" lengthAdjust="spacingAndGlyphs" fill="#b3b3b3" style="font-weight:normal" >12.45%</text>
<text x="382.4" y="417.2" font-size="8.07" textLength="5.35" lengthAdjust="spacingAndGlyphs" fill="#858585" style="font-weight:bold" transform="matrix(1,0,-0.23,1,95.96,0)"  stroke="#858585" stroke-width="0.25" stroke-linejoin="round">UK</text>
<rect x="382.2" y="421.6" width="157.8" height="7.5" fill="#dedede" />
<rect x="382.2" y="421.6" width="10.2" height="7.5" fill="#f7b78e" />
<rect x="382.2" y="431.4" width="157.8" height="7.5" fill="#dedede" />
<rect x="382.2" y="431.4" width="9" height="7.5" fill="#f7691a" />
<text x="547.9" y="417" font-size="8.5" textLength="15.2" lengthAdjust="spacingAndGlyphs" fill="#858585" style="font-weight:bold"  stroke="#858585" stroke-width="0.3" stroke-linejoin="round">7.28%</text>
<text x="582.1" y="417" font-size="8.5" textLength="15.2" lengthAdjust="spacingAndGlyphs" fill="#858585" style="font-weight:bold"  stroke="#858585" stroke-width="0.3" stroke-linejoin="round">6.71%</text>
<rect x="560.3" y="429.52" width="4.1" height="1.05" fill="#cf5468" />
<text x="566.6" y="433" font-size="8.5" textLength="14.8" lengthAdjust="spacingAndGlyphs" fill="#b3b3b3" style="font-weight:normal" >0.57%</text>
<text x="382.4" y="451.6" font-size="8.07" textLength="17.95" lengthAdjust="spacingAndGlyphs" fill="#858585" style="font-weight:bold" transform="matrix(1,0,-0.23,1,103.87,0)"  stroke="#858585" stroke-width="0.25" stroke-linejoin="round">CANADA</text>
<rect x="382.2" y="456" width="157.8" height="7.5" fill="#dedede" />
<rect x="382.2" y="456" width="3.8" height="7.5" fill="#f7b78e" />
<rect x="382.2" y="465.8" width="157.8" height="7.5" fill="#dedede" />
<rect x="382.2" y="465.8" width="6.3" height="7.5" fill="#f7691a" />
<text x="547.9" y="451.4" font-size="8.5" textLength="15.2" lengthAdjust="spacingAndGlyphs" fill="#858585" style="font-weight:bold"  stroke="#858585" stroke-width="0.3" stroke-linejoin="round">2.03%</text>
<text x="582.1" y="451.4" font-size="8.5" textLength="15.2" lengthAdjust="spacingAndGlyphs" fill="#858585" style="font-weight:bold"  stroke="#858585" stroke-width="0.3" stroke-linejoin="round">4.51%</text>
<rect x="560.63" y="463.9" width="3.44" height="1.1" fill="#3cc28d" />
<rect x="561.8" y="462.73" width="1.1" height="3.44" fill="#3cc28d" />
<text x="566.6" y="467.4" font-size="8.5" textLength="14.8" lengthAdjust="spacingAndGlyphs" fill="#b3b3b3" style="font-weight:normal" >2.48%</text>
<text x="382.4" y="485.7" font-size="8.07" textLength="21.15" lengthAdjust="spacingAndGlyphs" fill="#858585" style="font-weight:bold" transform="matrix(1,0,-0.23,1,111.71,0)"  stroke="#858585" stroke-width="0.25" stroke-linejoin="round">GERMANY</text>
<rect x="382.2" y="490.1" width="157.8" height="7.5" fill="#dedede" />
<rect x="382.2" y="490.1" width="6.8" height="7.5" fill="#f7b78e" />
<rect x="382.2" y="499.9" width="157.8" height="7.5" fill="#dedede" />
<rect x="382.2" y="499.9" width="5.2" height="7.5" fill="#f7691a" />
<text x="547.9" y="485.5" font-size="8.5" textLength="15.2" lengthAdjust="spacingAndGlyphs" fill="#858585" style="font-weight:bold"  stroke="#858585" stroke-width="0.3" stroke-linejoin="round">4.08%</text>
<text x="582.1" y="485.5" font-size="8.5" textLength="15.2" lengthAdjust="spacingAndGlyphs" fill="#858585" style="font-weight:bold"  stroke="#858585" stroke-width="0.3" stroke-linejoin="round">3.59%</text>
<rect x="560.3" y="498.02" width="4.1" height="1.05" fill="#cf5468" />
<text x="566.6" y="501.5" font-size="8.5" textLength="14.8" lengthAdjust="spacingAndGlyphs" fill="#b3b3b3" style="font-weight:normal" >0.49%</text>
<clipPath id="c1"><circle cx="364.3" cy="361.8" r="7.2"/></clipPath>
<g clip-path="url(#c1)">
<rect x="357.1" y="354.6" width="14.4" height="14.4" fill="#ffffff" />
<rect x="357.1" y="354.6" width="14.4" height="1.11" fill="#d6323f" />
<rect x="357.1" y="356.82" width="14.4" height="1.11" fill="#d6323f" />
<rect x="357.1" y="359.03" width="14.4" height="1.11" fill="#d6323f" />
<rect x="357.1" y="361.25" width="14.4" height="1.11" fill="#d6323f" />
<rect x="357.1" y="363.46" width="14.4" height="1.11" fill="#d6323f" />
<rect x="357.1" y="365.68" width="14.4" height="1.11" fill="#d6323f" />
<rect x="357.1" y="367.89" width="14.4" height="1.11" fill="#d6323f" />
<rect x="357.1" y="354.6" width="7.56" height="7.2" fill="#3a4a8c" />
</g>
<circle cx="364.3" cy="395.1" r="7.2" fill="#2f6b78" />
<path d="M361.8 393.1 q2 -2 4 -1 l1 2 -2 2 1 3 -2 1 -2 -3 -2 -1z" fill="#9ccf4a"/>
<path d="M366.3 391.1 q2 0 3 2 l-1 3 -2 -1z" fill="#9ccf4a"/>
<clipPath id="c3"><circle cx="364.3" cy="428.8" r="7.2"/></clipPath>
<g clip-path="url(#c3)">
<rect x="357.1" y="421.6" width="14.4" height="14.4" fill="#3b4a8c" />
<path d="M357.1 421.6 L371.5 436 M371.5 421.6 L357.1 436" stroke="#ffffff" stroke-width="2.52"/>
<path d="M357.1 421.6 L371.5 436 M371.5 421.6 L357.1 436" stroke="#d12f3f" stroke-width="0.86"/>
<rect x="357.1" y="427" width="14.4" height="3.6" fill="#ffffff" />
<rect x="362.5" y="421.6" width="3.6" height="14.4" fill="#ffffff" />
<rect x="357.1" y="427.86" width="14.4" height="1.87" fill="#d12f3f" />
<rect x="363.36" y="421.6" width="1.87" height="14.4" fill="#d12f3f" />
</g>
<clipPath id="c4"><circle cx="364.3" cy="463.2" r="7.2"/></clipPath>
<g clip-path="url(#c4)">
<rect x="357.1" y="456" width="14.4" height="14.4" fill="#ffffff" />
<rect x="357.1" y="456" width="3.96" height="14.4" fill="#c8303f" />
<rect x="367.54" y="456" width="3.96" height="14.4" fill="#c8303f" />
<polygon points="364.3,459.96 366.46,463.2 365.02,463.92 365.02,466.08 363.58,466.08 363.58,463.92 362.14,463.2" fill="#c8303f" />
</g>
<clipPath id="c5"><circle cx="364.3" cy="497.3" r="7.2"/></clipPath>
<g clip-path="url(#c5)">
<rect x="357.1" y="490.1" width="14.4" height="4.9" fill="#2b2b2b" />
<rect x="357.1" y="494.9" width="14.4" height="4.9" fill="#d42f2f" />
<rect x="357.1" y="499.7" width="14.4" height="4.9" fill="#f4c232" />
</g>
<circle cx="656.5" cy="127.3" r="5.1" fill="#f08a4c" />
<rect x="652.5" y="126.2" width="8" height="0.8" fill="#fbd9c4" />
<rect x="652.5" y="128.2" width="8" height="0.8" fill="#fbd9c4" />
<text x="666.2" y="131.4" font-size="10.36" textLength="19.67" lengthAdjust="spacingAndGlyphs" fill="#7a7a7a" style="font-weight:bold" transform="matrix(1,0,-0.23,1,30.22,0)"  stroke="#7a7a7a" stroke-width="0.3" stroke-linejoin="round">STATES</text>
<polygon points="660.94,151.25 682.51,154.54 686.03,155.94 715.34,158.76 745.82,161.57 757.54,161.1 759.89,159.93 762.23,163.45 769.27,165.79 775.13,169.31 782.16,167.67 790.37,168.6 797.4,172.83 795.06,175.17 788.02,173.29 783.8,175.64 782.16,184.55 780.52,190.18 783.34,192.05 788.49,190.18 787.09,182.2 789.9,173.29 795.06,171.89 797.87,178.69 800.22,184.08 798.58,188.07 801.62,189.24 809.13,184.55 810.3,182.2 818.51,178.69 820.38,174 823.66,171.42 826.01,169.31 830.23,163.45 832.57,156.88 836.09,155.94 840.08,165.32 833.98,172.83 830.7,181.03 826.01,184.55 823.66,188.3 824.6,195.33 822.26,202.37 821.32,208.46 823.19,213.15 820.85,219.72 813.82,224.41 806.78,229.57 804.44,236.13 805.84,243.17 810.3,252.54 814.28,261.92 811.94,265.67 807.95,260.98 804.44,253.01 799.75,246.92 795.06,243.63 785.68,243.17 778.65,244.57 775.36,246.92 776.77,250.67 773.49,253.48 769.27,252.54 763.41,248.79 757.54,246.92 755.2,247.85 748.17,252.54 743.48,259.58 741.13,268.02 737.61,266.85 732.22,257.23 725.89,250.67 720.03,245.98 714.17,243.17 708.77,238.94 701.27,238.48 699.4,236.13 691.89,234.96 680.17,230.5 676.65,229.33 673.14,228.16 666.1,219.72 661.41,210.34 656.72,198.62 653.21,185.72 654.38,175.17 657.9,165.79 660.24,158.76" fill="#dcdcdc" />
<polyline points="686.03,155.94 687.2,165.79 690.72,175.17 695.41,178.69 697.99,177.05" fill="none" stroke="#f6f6f6" stroke-width="0.9"/>
<polyline points="681.58,167.67 682.51,186.66" fill="none" stroke="#f6f6f6" stroke-width="0.9"/>
<polyline points="668.45,186.66 697.99,186.66" fill="none" stroke="#f6f6f6" stroke-width="0.9"/>
<polyline points="697.99,177.05 721.67,177.05" fill="none" stroke="#f6f6f6" stroke-width="0.9"/>
<polyline points="697.99,177.05 697.99,195.1" fill="none" stroke="#f6f6f6" stroke-width="0.9"/>
<polyline points="685.56,186.66 685.56,232.61" fill="none" stroke="#f6f6f6" stroke-width="0.9"/>
<polyline points="696.58,195.1 727.06,195.1" fill="none" stroke="#f6f6f6" stroke-width="0.9"/>
<polyline points="700.8,195.1 700.8,238.48" fill="none" stroke="#f6f6f6" stroke-width="0.9"/>
<polyline points="722.37,159.93 722.37,196.04" fill="none" stroke="#f6f6f6" stroke-width="0.9"/>
<polyline points="722.37,174.94 745.35,174.94" fill="none" stroke="#f6f6f6" stroke-width="0.9"/>
<polyline points="721.67,186.89 746.76,186.89" fill="none" stroke="#f6f6f6" stroke-width="0.9"/>
<polyline points="727.06,195.1 727.06,219.72" fill="none" stroke="#f6f6f6" stroke-width="0.9"/>
<polyline points="727.06,201.9 752.15,201.9" fill="none" stroke="#f6f6f6" stroke-width="0.9"/>
<polyline points="685.56,215.97 727.06,215.97" fill="none" stroke="#f6f6f6" stroke-width="0.9"/>
<polyline points="727.06,218.55 753.32,218.55" fill="none" stroke="#f6f6f6" stroke-width="0.9"/>
<polyline points="745.35,161.57 745.35,186.66" fill="none" stroke="#f6f6f6" stroke-width="0.9"/>
<polyline points="746.76,186.66 766.92,186.66" fill="none" stroke="#f6f6f6" stroke-width="0.9"/>
<polyline points="748.17,186.66 752.15,201.9 752.15,218.55" fill="none" stroke="#f6f6f6" stroke-width="0.9"/>
<polyline points="753.32,218.55 753.32,234.96" fill="none" stroke="#f6f6f6" stroke-width="0.9"/>
<polyline points="752.15,196.27 769.27,196.27" fill="none" stroke="#f6f6f6" stroke-width="0.9"/>
<polyline points="753.32,234.96 772.78,236.13" fill="none" stroke="#f6f6f6" stroke-width="0.9"/>
<polyline points="772.78,218.55 772.78,251.37" fill="none" stroke="#f6f6f6" stroke-width="0.9"/>
<polyline points="771.61,218.55 806.78,214.56" fill="none" stroke="#f6f6f6" stroke-width="0.9"/>
<polyline points="772.78,220.89 804.44,219.72" fill="none" stroke="#f6f6f6" stroke-width="0.9"/>
<polyline points="782.16,220.89 783.34,243.17" fill="none" stroke="#f6f6f6" stroke-width="0.9"/>
<polyline points="763.41,165.79 765.75,190.41" fill="none" stroke="#f6f6f6" stroke-width="0.9"/>
<polyline points="785.68,190.41 785.68,210.34" fill="none" stroke="#f6f6f6" stroke-width="0.9"/>
<polyline points="777.47,210.34 797.4,206.82" fill="none" stroke="#f6f6f6" stroke-width="0.9"/>
<polyline points="799.75,189.24 800.92,205.65" fill="none" stroke="#f6f6f6" stroke-width="0.9"/>
<polyline points="797.4,208 822.02,210.34" fill="none" stroke="#f6f6f6" stroke-width="0.9"/>
<polyline points="799.75,220.89 813.82,224.41" fill="none" stroke="#f6f6f6" stroke-width="0.9"/>
<polyline points="825.54,168.14 827.88,183.38" fill="none" stroke="#f6f6f6" stroke-width="0.9"/>
<polygon points="660.94,151.25 682.51,154.54 681.58,167.2 668.45,166.26 665.63,164.38 661.88,163.45 661.41,158.76" fill="#f26a1c" stroke="#fbe5d6" stroke-width="0.7"/>
<polygon points="661.88,163.45 665.63,164.38 668.45,166.26 681.58,167.2 682.51,168.6 678.29,173.29 676.89,184.55 655.55,182.2 654.38,175.17 657.9,165.79" fill="#f26a1c" stroke="#fbe5d6" stroke-width="0.7"/>
<polygon points="655.55,182.2 668.45,184.55 667.98,199.09 679.23,219.25 678.29,223.47 677.83,229.33 673.14,228.16 666.1,219.72 661.41,210.34 656.72,198.62 653.21,185.72" fill="#f26a1c" stroke="#fbe5d6" stroke-width="0.7"/>
<polygon points="722.37,219.72 734.57,219.72 734.57,231.91 743.48,232.85 755.2,234.96 756.61,243.17 755.2,247.85 748.17,252.54 743.48,259.58 741.13,268.02 737.61,266.85 732.22,257.23 725.89,250.67 720.03,245.98 714.17,243.17 708.77,238.94 722.37,238.48" fill="#f26a1c" stroke="#fbe5d6" stroke-width="0.7"/>
<polygon points="766.45,190.41 775.36,190.41 777.71,194.4 777.71,208 775.36,215.03 773.02,216.44 768.33,208.46 764.58,201.43 765.52,196.27" fill="#f26a1c" stroke="#fbe5d6" stroke-width="0.7"/>
<polygon points="803.97,185.96 809.13,183.14 814.99,181.97 818.04,177.98 819.68,174.23 822.49,172.36 823.9,177.51 824.6,184.55 823.66,188.53 820.38,186.89 809.13,187.83 804.2,188.53" fill="#f26a1c" stroke="#fbe5d6" stroke-width="0.7"/>
<polygon points="801.15,189.24 820.85,187.6 822.26,194.4 819.91,197.68 802.09,198.85" fill="#f26a1c" stroke="#fbe5d6" stroke-width="0.7"/>
<polygon points="795.06,222.06 804.44,216.44 814.28,214.56 822.26,212.68 820.85,219.72 812.88,223.94 806.78,221.13 797.4,222.3" fill="#f26a1c" stroke="#fbe5d6" stroke-width="0.7"/>
<polygon points="788.96,225.81 797.4,224.64 804.91,231.91 804.91,241.29 795.53,242.23 792.71,238.48" fill="#f26a1c" stroke="#fbe5d6" stroke-width="0.7"/>
<polygon points="790.84,243.63 795.53,242.23 804.91,241.29 810.53,252.54 814.28,261.92 811.94,265.67 807.95,260.98 804.44,253.01 799.75,246.92" fill="#f26a1c" stroke="#fbe5d6" stroke-width="0.7"/>
<text x="663.76" y="209.5" font-size="4.2" fill="#fbe0cc" text-anchor="middle" style="font-weight:bold;font-style:italic">1</text>
<text x="673.14" y="161.43" font-size="4.2" fill="#fbe0cc" text-anchor="middle" style="font-weight:bold;font-style:italic">2</text>
<text x="817.33" y="182.53" font-size="4.2" fill="#fbe0cc" text-anchor="middle" style="font-weight:bold;font-style:italic">3</text>
<text x="811.94" y="220.75" font-size="4.2" fill="#fbe0cc" text-anchor="middle" style="font-weight:bold;font-style:italic">4</text>
<text x="796.93" y="237.16" font-size="4.2" fill="#fbe0cc" text-anchor="middle" style="font-weight:bold;font-style:italic">5</text>
<text x="736.91" y="245.13" font-size="4.2" fill="#fbe0cc" text-anchor="middle" style="font-weight:bold;font-style:italic">6</text>
<text x="771.61" y="203.63" font-size="4.2" fill="#fbe0cc" text-anchor="middle" style="font-weight:bold;font-style:italic">7</text>
<text x="810.3" y="194.96" font-size="4.2" fill="#fbe0cc" text-anchor="middle" style="font-weight:bold;font-style:italic">8</text>
<text x="806.78" y="256.86" font-size="4.2" fill="#fbe0cc" text-anchor="middle" style="font-weight:bold;font-style:italic">9</text>
<text x="668.45" y="177.14" font-size="4.2" fill="#fbe0cc" text-anchor="middle" style="font-weight:bold;font-style:italic">10</text>
<text x="922.2" y="155.7" font-size="8.21" textLength="10.34" lengthAdjust="spacingAndGlyphs" fill="#f7d2b8" style="font-weight:bold" transform="matrix(1,0,-0.23,1,35.81,0)"  stroke="#f7d2b8" stroke-width="0.4" stroke-linejoin="round">2018</text>
<text x="944.8" y="155.7" font-size="8.21" textLength="10.74" lengthAdjust="spacingAndGlyphs" fill="#ee8446" style="font-weight:bold" transform="matrix(1,0,-0.23,1,35.81,0)"  stroke="#ee8446" stroke-width="0.45" stroke-linejoin="round">2019</text>
<text x="972.5" y="155.7" font-size="8.21" textLength="6.54" lengthAdjust="spacingAndGlyphs" fill="#e8894e" style="font-weight:bold" transform="matrix(1,0,-0.23,1,35.81,0)"  stroke="#e8894e" stroke-width="0.3" stroke-linejoin="round">+/-</text>
<text x="862.7" y="172.5" font-size="8.21" textLength="31.44" lengthAdjust="spacingAndGlyphs" fill="#ea7a3c" style="font-weight:bold" transform="matrix(1,0,-0.23,1,39.68,0)"  stroke="#ea7a3c" stroke-width="0.3" stroke-linejoin="round">1. CALIFORNIA</text>
<text x="918.9" y="172.5" font-size="8.21" textLength="16.2" lengthAdjust="spacingAndGlyphs" fill="#858585" style="font-weight:bold"  stroke="#858585" stroke-width="0.3" stroke-linejoin="round">63.61%</text>
<text x="942" y="172.5" font-size="8.21" textLength="15.6" lengthAdjust="spacingAndGlyphs" fill="#858585" style="font-weight:bold"  stroke="#858585" stroke-width="0.3" stroke-linejoin="round">61.10%</text>
<rect x="965.5" y="169.12" width="4.1" height="1.05" fill="#cf5468" />
<text x="971.4" y="172.5" font-size="8.21" textLength="12.6" lengthAdjust="spacingAndGlyphs" fill="#b3b3b3" style="font-weight:normal" >2.71%</text>
<text x="862" y="182.46" font-size="8.21" textLength="36.14" lengthAdjust="spacingAndGlyphs" fill="#ea7a3c" style="font-weight:bold" transform="matrix(1,0,-0.23,1,41.97,0)"  stroke="#ea7a3c" stroke-width="0.3" stroke-linejoin="round">2. WASHINGTON</text>
<text x="919.7" y="182.46" font-size="8.21" textLength="14.6" lengthAdjust="spacingAndGlyphs" fill="#858585" style="font-weight:bold"  stroke="#858585" stroke-width="0.3" stroke-linejoin="round">8.85%</text>
<text x="942.6" y="182.46" font-size="8.21" textLength="14.4" lengthAdjust="spacingAndGlyphs" fill="#858585" style="font-weight:bold"  stroke="#858585" stroke-width="0.3" stroke-linejoin="round">7.00%</text>
<rect x="965.5" y="179.09" width="4.1" height="1.05" fill="#cf5468" />
<text x="971.4" y="182.46" font-size="8.21" textLength="12.6" lengthAdjust="spacingAndGlyphs" fill="#b3b3b3" style="font-weight:normal" >0.99%</text>
<text x="862.4" y="192.42" font-size="8.21" textLength="28.94" lengthAdjust="spacingAndGlyphs" fill="#ea7a3c" style="font-weight:bold" transform="matrix(1,0,-0.23,1,44.26,0)"  stroke="#ea7a3c" stroke-width="0.3" stroke-linejoin="round">3. NEW YORK</text>
<text x="919.7" y="192.42" font-size="8.21" textLength="14.6" lengthAdjust="spacingAndGlyphs" fill="#858585" style="font-weight:bold"  stroke="#858585" stroke-width="0.3" stroke-linejoin="round">7.35%</text>
<text x="942.6" y="192.42" font-size="8.21" textLength="14.4" lengthAdjust="spacingAndGlyphs" fill="#858585" style="font-weight:bold"  stroke="#858585" stroke-width="0.3" stroke-linejoin="round">5.92%</text>
<rect x="965.5" y="189.04" width="4.1" height="1.05" fill="#cf5468" />
<text x="971.4" y="192.42" font-size="8.21" textLength="12.6" lengthAdjust="spacingAndGlyphs" fill="#b3b3b3" style="font-weight:normal" >1.43%</text>
<text x="862.4" y="202.38" font-size="8.21" textLength="44.34" lengthAdjust="spacingAndGlyphs" fill="#ea7a3c" style="font-weight:bold" transform="matrix(1,0,-0.23,1,46.55,0)"  stroke="#ea7a3c" stroke-width="0.3" stroke-linejoin="round">4. NORTH CAROLINA</text>
<text x="919.7" y="202.38" font-size="8.21" textLength="14.6" lengthAdjust="spacingAndGlyphs" fill="#858585" style="font-weight:bold"  stroke="#858585" stroke-width="0.3" stroke-linejoin="round">0.37%</text>
<text x="942.6" y="202.38" font-size="8.21" textLength="14.4" lengthAdjust="spacingAndGlyphs" fill="#858585" style="font-weight:bold"  stroke="#858585" stroke-width="0.3" stroke-linejoin="round">3.83%</text>
<rect x="965.83" y="198.98" width="3.44" height="1.1" fill="#3cc28d" />
<rect x="967" y="197.81" width="1.1" height="3.44" fill="#3cc28d" />
<text x="971.4" y="202.38" font-size="8.21" textLength="12.6" lengthAdjust="spacingAndGlyphs" fill="#b3b3b3" style="font-weight:normal" >3.29%</text>
<text x="862" y="212.34" font-size="8.21" textLength="24.94" lengthAdjust="spacingAndGlyphs" fill="#ea7a3c" style="font-weight:bold" transform="matrix(1,0,-0.23,1,48.84,0)"  stroke="#ea7a3c" stroke-width="0.3" stroke-linejoin="round">5. GEORGIA</text>
<text x="919.7" y="212.34" font-size="8.21" textLength="14.6" lengthAdjust="spacingAndGlyphs" fill="#858585" style="font-weight:bold"  stroke="#858585" stroke-width="0.3" stroke-linejoin="round">1.96%</text>
<text x="942.6" y="212.34" font-size="8.21" textLength="14.4" lengthAdjust="spacingAndGlyphs" fill="#858585" style="font-weight:bold"  stroke="#858585" stroke-width="0.3" stroke-linejoin="round">3.29%</text>
<rect x="965.83" y="208.94" width="3.44" height="1.1" fill="#3cc28d" />
<rect x="967" y="207.77" width="1.1" height="3.44" fill="#3cc28d" />
<text x="971.4" y="212.34" font-size="8.21" textLength="12.6" lengthAdjust="spacingAndGlyphs" fill="#b3b3b3" style="font-weight:normal" >1.33%</text>
<text x="862" y="222.3" font-size="8.21" textLength="19.14" lengthAdjust="spacingAndGlyphs" fill="#ea7a3c" style="font-weight:bold" transform="matrix(1,0,-0.23,1,51.13,0)"  stroke="#ea7a3c" stroke-width="0.3" stroke-linejoin="round">6. TEXAS</text>
<text x="919.7" y="222.3" font-size="8.21" textLength="14.6" lengthAdjust="spacingAndGlyphs" fill="#858585" style="font-weight:bold"  stroke="#858585" stroke-width="0.3" stroke-linejoin="round">4.84%</text>
<text x="942.6" y="222.3" font-size="8.21" textLength="14.4" lengthAdjust="spacingAndGlyphs" fill="#858585" style="font-weight:bold"  stroke="#858585" stroke-width="0.3" stroke-linejoin="round">2.82%</text>
<rect x="965.5" y="218.92" width="4.1" height="1.05" fill="#cf5468" />
<text x="971.4" y="222.3" font-size="8.21" textLength="12.6" lengthAdjust="spacingAndGlyphs" fill="#b3b3b3" style="font-weight:normal" >2.02%</text>
<text x="862" y="232.26" font-size="8.21" textLength="23.84" lengthAdjust="spacingAndGlyphs" fill="#ea7a3c" style="font-weight:bold" transform="matrix(1,0,-0.23,1,53.42,0)"  stroke="#ea7a3c" stroke-width="0.3" stroke-linejoin="round">7. ILLINOIS</text>
<text x="919.7" y="232.26" font-size="8.21" textLength="14.6" lengthAdjust="spacingAndGlyphs" fill="#858585" style="font-weight:bold"  stroke="#858585" stroke-width="0.3" stroke-linejoin="round">1.49%</text>
<text x="942.6" y="232.26" font-size="8.21" textLength="14.4" lengthAdjust="spacingAndGlyphs" fill="#858585" style="font-weight:bold"  stroke="#858585" stroke-width="0.3" stroke-linejoin="round">1.67%</text>
<rect x="965.83" y="228.86" width="3.44" height="1.1" fill="#3cc28d" />
<rect x="967" y="227.69" width="1.1" height="3.44" fill="#3cc28d" />
<text x="971.4" y="232.26" font-size="8.21" textLength="12.6" lengthAdjust="spacingAndGlyphs" fill="#b3b3b3" style="font-weight:normal" >0.18%</text>
<text x="862" y="242.22" font-size="8.21" textLength="39.34" lengthAdjust="spacingAndGlyphs" fill="#ea7a3c" style="font-weight:bold" transform="matrix(1,0,-0.23,1,55.71,0)"  stroke="#ea7a3c" stroke-width="0.3" stroke-linejoin="round">8. PENNSYLVANIA</text>
<text x="919.7" y="242.22" font-size="8.21" textLength="14.6" lengthAdjust="spacingAndGlyphs" fill="#858585" style="font-weight:bold"  stroke="#858585" stroke-width="0.3" stroke-linejoin="round">0.74%</text>
<text x="942.6" y="242.22" font-size="8.21" textLength="14.4" lengthAdjust="spacingAndGlyphs" fill="#858585" style="font-weight:bold"  stroke="#858585" stroke-width="0.3" stroke-linejoin="round">1.97%</text>
<rect x="965.83" y="238.82" width="3.44" height="1.1" fill="#3cc28d" />
<rect x="967" y="237.65" width="1.1" height="3.44" fill="#3cc28d" />
<text x="971.4" y="242.22" font-size="8.21" textLength="12.6" lengthAdjust="spacingAndGlyphs" fill="#b3b3b3" style="font-weight:normal" >1.23%</text>
<text x="862" y="252.18" font-size="8.21" textLength="24.14" lengthAdjust="spacingAndGlyphs" fill="#ea7a3c" style="font-weight:bold" transform="matrix(1,0,-0.23,1,58,0)"  stroke="#ea7a3c" stroke-width="0.3" stroke-linejoin="round">9. FLORIDA</text>
<text x="919.7" y="252.18" font-size="8.21" textLength="14.6" lengthAdjust="spacingAndGlyphs" fill="#858585" style="font-weight:bold"  stroke="#858585" stroke-width="0.3" stroke-linejoin="round">1.02%</text>
<text x="942.6" y="252.18" font-size="8.21" textLength="14.4" lengthAdjust="spacingAndGlyphs" fill="#858585" style="font-weight:bold"  stroke="#858585" stroke-width="0.3" stroke-linejoin="round">1.86%</text>
<rect x="965.83" y="248.78" width="3.44" height="1.1" fill="#3cc28d" />
<rect x="967" y="247.61" width="1.1" height="3.44" fill="#3cc28d" />
<text x="971.4" y="252.18" font-size="8.21" textLength="12.6" lengthAdjust="spacingAndGlyphs" fill="#b3b3b3" style="font-weight:normal" >0.84%</text>
<text x="860.7" y="262.14" font-size="8.21" textLength="25.44" lengthAdjust="spacingAndGlyphs" fill="#ea7a3c" style="font-weight:bold" transform="matrix(1,0,-0.23,1,60.29,0)"  stroke="#ea7a3c" stroke-width="0.3" stroke-linejoin="round">10. OREGON</text>
<text x="919.7" y="262.14" font-size="8.21" textLength="14.6" lengthAdjust="spacingAndGlyphs" fill="#858585" style="font-weight:bold"  stroke="#858585" stroke-width="0.3" stroke-linejoin="round">1.00%</text>
<text x="942.6" y="262.14" font-size="8.21" textLength="14.4" lengthAdjust="spacingAndGlyphs" fill="#858585" style="font-weight:bold"  stroke="#858585" stroke-width="0.3" stroke-linejoin="round">1.01%</text>
<rect x="965.83" y="258.74" width="3.44" height="1.1" fill="#3cc28d" />
<rect x="967" y="257.57" width="1.1" height="3.44" fill="#3cc28d" />
<text x="971.4" y="262.14" font-size="8.21" textLength="12.6" lengthAdjust="spacingAndGlyphs" fill="#b3b3b3" style="font-weight:normal" >0.01%</text>
<polygon points="652.1,289.4 728.2,289.4 724,302.8 652.1,302.8" fill="url(#gBan2)" />
<text x="657.2" y="298.7" font-size="7.93" textLength="44.36" lengthAdjust="spacingAndGlyphs" fill="#ffffff" style="font-weight:bold" transform="matrix(1,0,-0.23,1,68.7,0)"  stroke="#ffffff" stroke-width="0.3" stroke-linejoin="round">THE JOB HUNTERS</text>
<rect x="692.4" y="319.2" width="8.2" height="4.4" fill="#ee7a3a" />
<rect x="692.4" y="320.8" width="8.2" height="0.6" fill="#fbd9c4" />
<rect x="694" y="316.4" width="0.8" height="2.8" fill="#ee7a3a" />
<rect x="696.2" y="316" width="0.8" height="3.2" fill="#ee7a3a" />
<rect x="698.4" y="316.4" width="0.8" height="2.8" fill="#ee7a3a" />
<text x="705.4" y="323.6" font-size="10.36" textLength="10.57" lengthAdjust="spacingAndGlyphs" fill="#7a7a7a" style="font-weight:bold" transform="matrix(1,0,-0.23,1,74.43,0)"  stroke="#7a7a7a" stroke-width="0.3" stroke-linejoin="round">AGE</text>
<text x="678.7" y="341.7" font-size="7.5" textLength="10.1" lengthAdjust="spacingAndGlyphs" fill="#f7d2b8" style="font-weight:bold" transform="matrix(1,0,-0.23,1,78.59,0)"  stroke="#f7d2b8" stroke-width="0.4" stroke-linejoin="round">2018</text>
<text x="706.7" y="341.7" font-size="7.5" textLength="10.4" lengthAdjust="spacingAndGlyphs" fill="#ee8446" style="font-weight:bold" transform="matrix(1,0,-0.23,1,78.59,0)"  stroke="#ee8446" stroke-width="0.45" stroke-linejoin="round">2019</text>
<text x="738.2" y="341.7" font-size="7.5" textLength="6.7" lengthAdjust="spacingAndGlyphs" fill="#e8894e" style="font-weight:bold" transform="matrix(1,0,-0.23,1,78.59,0)"  stroke="#e8894e" stroke-width="0.3" stroke-linejoin="round">+/-</text>
<line x1="766" y1="330.5" x2="766" y2="405" stroke="#ececec" stroke-width="1"/>
<text x="654.1" y="359.4" font-size="8.93" textLength="12.78" lengthAdjust="spacingAndGlyphs" fill="#ea7a3c" style="font-weight:bold" transform="matrix(1,0,-0.23,1,82.66,0)"  stroke="#ea7a3c" stroke-width="0.3" stroke-linejoin="round">18-24</text>
<text x="673.25" y="359.4" font-size="8.93" textLength="20" lengthAdjust="spacingAndGlyphs" fill="#858585" style="font-weight:bold"  stroke="#858585" stroke-width="0.3" stroke-linejoin="round">46.95%</text>
<text x="701.5" y="359.4" font-size="8.93" textLength="20" lengthAdjust="spacingAndGlyphs" fill="#858585" style="font-weight:bold"  stroke="#858585" stroke-width="0.3" stroke-linejoin="round">36.77%</text>
<rect x="729" y="355.78" width="4.9" height="1.05" fill="#cf5468" />
<text x="736.2" y="359.4" font-size="8.93" textLength="15.9" lengthAdjust="spacingAndGlyphs" fill="#b3b3b3" style="font-weight:normal" >10.18%</text>
<text x="653.7" y="372.6" font-size="8.93" textLength="13.18" lengthAdjust="spacingAndGlyphs" fill="#ea7a3c" style="font-weight:bold" transform="matrix(1,0,-0.23,1,85.7,0)"  stroke="#ea7a3c" stroke-width="0.3" stroke-linejoin="round">25-34</text>
<text x="673.25" y="372.6" font-size="8.93" textLength="20" lengthAdjust="spacingAndGlyphs" fill="#858585" style="font-weight:bold"  stroke="#858585" stroke-width="0.3" stroke-linejoin="round">44.52%</text>
<text x="701.5" y="372.6" font-size="8.93" textLength="20" lengthAdjust="spacingAndGlyphs" fill="#858585" style="font-weight:bold"  stroke="#858585" stroke-width="0.3" stroke-linejoin="round">52.45%</text>
<rect x="729.39" y="368.95" width="4.12" height="1.1" fill="#3cc28d" />
<rect x="730.9" y="367.44" width="1.1" height="4.12" fill="#3cc28d" />
<text x="736.2" y="372.6" font-size="8.93" textLength="14.1" lengthAdjust="spacingAndGlyphs" fill="#b3b3b3" style="font-weight:normal" >7.93%</text>
<text x="653.7" y="385.8" font-size="8.93" textLength="13.18" lengthAdjust="spacingAndGlyphs" fill="#ea7a3c" style="font-weight:bold" transform="matrix(1,0,-0.23,1,88.73,0)"  stroke="#ea7a3c" stroke-width="0.3" stroke-linejoin="round">35-44</text>
<text x="674.85" y="385.8" font-size="8.93" textLength="16.8" lengthAdjust="spacingAndGlyphs" fill="#858585" style="font-weight:bold"  stroke="#858585" stroke-width="0.3" stroke-linejoin="round">5.59%</text>
<text x="703.9" y="385.8" font-size="8.93" textLength="15.2" lengthAdjust="spacingAndGlyphs" fill="#858585" style="font-weight:bold"  stroke="#858585" stroke-width="0.3" stroke-linejoin="round">7.13%</text>
<rect x="729.39" y="382.15" width="4.12" height="1.1" fill="#3cc28d" />
<rect x="730.9" y="380.64" width="1.1" height="4.12" fill="#3cc28d" />
<text x="736.2" y="385.8" font-size="8.93" textLength="14.1" lengthAdjust="spacingAndGlyphs" fill="#b3b3b3" style="font-weight:normal" >1.54%</text>
<text x="655.9" y="399" font-size="8.93" textLength="8.18" lengthAdjust="spacingAndGlyphs" fill="#ea7a3c" style="font-weight:bold" transform="matrix(1,0,-0.23,1,91.77,0)"  stroke="#ea7a3c" stroke-width="0.3" stroke-linejoin="round">45+</text>
<text x="674.85" y="399" font-size="8.93" textLength="16.8" lengthAdjust="spacingAndGlyphs" fill="#858585" style="font-weight:bold"  stroke="#858585" stroke-width="0.3" stroke-linejoin="round">2.94%</text>
<text x="703.9" y="399" font-size="8.93" textLength="15.2" lengthAdjust="spacingAndGlyphs" fill="#858585" style="font-weight:bold"  stroke="#858585" stroke-width="0.3" stroke-linejoin="round">3.65%</text>
<rect x="729.39" y="395.35" width="4.12" height="1.1" fill="#3cc28d" />
<rect x="730.9" y="393.84" width="1.1" height="4.12" fill="#3cc28d" />
<text x="736.2" y="399" font-size="8.93" textLength="14.1" lengthAdjust="spacingAndGlyphs" fill="#b3b3b3" style="font-weight:normal" >0.71%</text>
<rect x="868.6" y="320.2" width="8.6" height="3.6" fill="#ee7a3a" rx="1.5" />
<circle cx="872.9" cy="317.6" r="2.7" fill="#ee7a3a" />
<text x="881.9" y="323.2" font-size="10.36" textLength="22.07" lengthAdjust="spacingAndGlyphs" fill="#7a7a7a" style="font-weight:bold" transform="matrix(1,0,-0.23,1,74.34,0)"  stroke="#7a7a7a" stroke-width="0.3" stroke-linejoin="round">GENDER</text>
<text x="800.9" y="342.2" font-size="8.64" textLength="10.2" lengthAdjust="spacingAndGlyphs" fill="#f7d2b8" style="font-weight:bold" transform="matrix(1,0,-0.23,1,78.71,0)"  stroke="#f7d2b8" stroke-width="0.4" stroke-linejoin="round">2018</text>
<text x="879" y="342.2" font-size="8.64" textLength="9.8" lengthAdjust="spacingAndGlyphs" fill="#ee8446" style="font-weight:bold" transform="matrix(1,0,-0.23,1,78.71,0)"  stroke="#ee8446" stroke-width="0.45" stroke-linejoin="round">2019</text>
<text x="956.6" y="342.2" font-size="8.64" textLength="6.9" lengthAdjust="spacingAndGlyphs" fill="#e8894e" style="font-weight:bold" transform="matrix(1,0,-0.23,1,78.71,0)"  stroke="#e8894e" stroke-width="0.3" stroke-linejoin="round">+/-</text>
<circle cx="794.1" cy="353.3" r="2.6" fill="#c9c9c9" />
<path d="M787.7 357 h11.6 q1.2 0 1.2 1.2 v11 h-2.2 v-9.4 h-0.6 v22.6 h-3.4 v-12 h-0.8 v12 h-3.4 v-22.6 h-0.6 v9.4 h-2.2 v-11 q0 -1.2 1.2 -1.2 z" fill="#f6b48c"/>
<circle cx="819.75" cy="352.9" r="2.6" fill="#c9c9c9" />
<polygon points="816.15,356.9 823.35,356.9 824.95,372.8 814.55,372.8" fill="#c9c9c9" />
<path d="M816.35 358.2 L812.15 369.2 M823.15 358.2 L827.35 369.2" stroke="#c9c9c9" stroke-width="1.9" stroke-linecap="round"/>
<rect x="816.75" y="372.6" width="2.5" height="10.4" fill="#c9c9c9" />
<rect x="820.25" y="372.6" width="2.5" height="10.4" fill="#c9c9c9" />
<rect x="816.75" y="377.2" width="2.5" height="5.8" fill="#f6b48c" />
<rect x="820.25" y="377.2" width="2.5" height="5.8" fill="#f6b48c" />
<circle cx="870.7" cy="353.3" r="2.6" fill="#c9c9c9" />
<path d="M864.1 357 h12 q1.2 0 1.2 1.2 v11 h-2.2 v-9.4 h-0.6 v22.6 h-3.4 v-12 h-0.8 v12 h-3.4 v-22.6 h-0.6 v9.4 h-2.2 v-11 q0 -1.2 1.2 -1.2 z" fill="#f7691a"/>
<circle cx="896.45" cy="352.9" r="2.6" fill="#c9c9c9" />
<polygon points="892.85,356.9 900.05,356.9 901.65,372.8 891.25,372.8" fill="#c9c9c9" />
<path d="M893.05 358.2 L888.85 369.2 M899.85 358.2 L904.05 369.2" stroke="#c9c9c9" stroke-width="1.9" stroke-linecap="round"/>
<rect x="893.45" y="372.6" width="2.5" height="10.4" fill="#c9c9c9" />
<rect x="896.95" y="372.6" width="2.5" height="10.4" fill="#c9c9c9" />
<rect x="893.45" y="377.2" width="2.5" height="5.8" fill="#f7691a" />
<rect x="896.95" y="377.2" width="2.5" height="5.8" fill="#f7691a" />
<circle cx="948" cy="353.3" r="2.6" fill="#c9c9c9" />
<path d="M941 357 h12.8 q1.2 0 1.2 1.2 v11 h-2.2 v-9.4 h-0.6 v22.6 h-3.4 v-12 h-0.8 v12 h-3.4 v-22.6 h-0.6 v9.4 h-2.2 v-11 q0 -1.2 1.2 -1.2 z" fill="#d0d0d0"/>
<circle cx="973.35" cy="352.9" r="2.6" fill="#c9c9c9" />
<polygon points="969.75,356.9 976.95,356.9 978.55,372.8 968.15,372.8" fill="#c9c9c9" />
<path d="M969.95 358.2 L965.75 369.2 M976.75 358.2 L980.95 369.2" stroke="#c9c9c9" stroke-width="1.9" stroke-linecap="round"/>
<rect x="970.35" y="372.6" width="2.5" height="10.4" fill="#c9c9c9" />
<rect x="973.85" y="372.6" width="2.5" height="10.4" fill="#c9c9c9" />
<text x="783" y="399.7" font-size="9.79" textLength="21.5" lengthAdjust="spacingAndGlyphs" fill="#858585" style="font-weight:bold"  stroke="#858585" stroke-width="0.3" stroke-linejoin="round">88.00%</text>
<text x="810.8" y="399.7" font-size="9.79" textLength="20.1" lengthAdjust="spacingAndGlyphs" fill="#858585" style="font-weight:bold"  stroke="#858585" stroke-width="0.3" stroke-linejoin="round">12.00%</text>
<text x="859.4" y="399.7" font-size="9.79" textLength="21.6" lengthAdjust="spacingAndGlyphs" fill="#858585" style="font-weight:bold"  stroke="#858585" stroke-width="0.3" stroke-linejoin="round">86.48%</text>
<text x="887.6" y="399.7" font-size="9.79" textLength="19.6" lengthAdjust="spacingAndGlyphs" fill="#858585" style="font-weight:bold"  stroke="#858585" stroke-width="0.3" stroke-linejoin="round">13.52%</text>
<rect x="933" y="395.77" width="4.8" height="1.05" fill="#cf5468" />
<text x="940.1" y="399.7" font-size="9.79" textLength="16.3" lengthAdjust="spacingAndGlyphs" fill="#b3b3b3" style="font-weight:normal" >1.52%</text>
<rect x="961.09" y="395.75" width="4.12" height="1.1" fill="#3cc28d" />
<rect x="962.6" y="394.24" width="1.1" height="4.12" fill="#3cc28d" />
<text x="967.9" y="399.7" font-size="9.79" textLength="16.8" lengthAdjust="spacingAndGlyphs" fill="#b3b3b3" style="font-weight:normal" >1.52%</text>
<line x1="761" y1="431.7" x2="761" y2="513.8" stroke="#ececec" stroke-width="1"/>
<line x1="882.4" y1="431.7" x2="882.4" y2="513.8" stroke="#ececec" stroke-width="1"/>
<path d="M686.3 429.8 L683.2 424.6 A3.5 3.5 0 1 1 689.4 424.6 Z" fill="#ee7a3a"/>
<circle cx="686.3" cy="423.3" r="1.3" fill="#fbe0cc" />
<text x="694.1" y="430" font-size="10.64" textLength="26.64" lengthAdjust="spacingAndGlyphs" fill="#7a7a7a" style="font-weight:bold" transform="matrix(1,0,-0.23,1,98.9,0)"  stroke="#7a7a7a" stroke-width="0.3" stroke-linejoin="round">LOCATION</text>
<text x="672.2" y="451.6" font-size="8.36" textLength="10.13" lengthAdjust="spacingAndGlyphs" fill="#f7d2b8" style="font-weight:bold" transform="matrix(1,0,-0.23,1,103.87,0)"  stroke="#f7d2b8" stroke-width="0.4" stroke-linejoin="round">2018</text>
<text x="699.9" y="451.6" font-size="8.36" textLength="10.43" lengthAdjust="spacingAndGlyphs" fill="#ee8446" style="font-weight:bold" transform="matrix(1,0,-0.23,1,103.87,0)"  stroke="#ee8446" stroke-width="0.45" stroke-linejoin="round">2019</text>
<text x="733.1" y="451.6" font-size="8.36" textLength="7.03" lengthAdjust="spacingAndGlyphs" fill="#e8894e" style="font-weight:bold" transform="matrix(1,0,-0.23,1,103.87,0)"  stroke="#e8894e" stroke-width="0.3" stroke-linejoin="round">+/-</text>
<text x="667.95" y="464.8" font-size="7.79" textLength="17.3" lengthAdjust="spacingAndGlyphs" fill="#858585" style="font-weight:bold"  stroke="#858585" stroke-width="0.3" stroke-linejoin="round">53.76%</text>
<text x="696.6" y="464.8" font-size="7.79" textLength="16" lengthAdjust="spacingAndGlyphs" fill="#858585" style="font-weight:bold"  stroke="#858585" stroke-width="0.3" stroke-linejoin="round">54.01%</text>
<rect x="725.98" y="461.55" width="4.03" height="1.1" fill="#3cc28d" />
<rect x="727.45" y="460.08" width="1.1" height="4.03" fill="#3cc28d" />
<text x="732.7" y="464.8" font-size="7.79" textLength="14.6" lengthAdjust="spacingAndGlyphs" fill="#b3b3b3" style="font-weight:normal" >0.25%</text>
<text x="667.95" y="475.2" font-size="7.79" textLength="17.3" lengthAdjust="spacingAndGlyphs" fill="#858585" style="font-weight:bold"  stroke="#858585" stroke-width="0.3" stroke-linejoin="round">14.99%</text>
<text x="696.6" y="475.2" font-size="7.79" textLength="16" lengthAdjust="spacingAndGlyphs" fill="#858585" style="font-weight:bold"  stroke="#858585" stroke-width="0.3" stroke-linejoin="round">11.03%</text>
<rect x="725.6" y="471.98" width="4.8" height="1.05" fill="#cf5468" />
<text x="732.7" y="475.2" font-size="7.79" textLength="14.6" lengthAdjust="spacingAndGlyphs" fill="#b3b3b3" style="font-weight:normal" >3.96%</text>
<text x="669.5" y="485.4" font-size="7.79" textLength="14.2" lengthAdjust="spacingAndGlyphs" fill="#858585" style="font-weight:bold"  stroke="#858585" stroke-width="0.3" stroke-linejoin="round">3.62%</text>
<text x="697.7" y="485.4" font-size="7.79" textLength="13.8" lengthAdjust="spacingAndGlyphs" fill="#858585" style="font-weight:bold"  stroke="#858585" stroke-width="0.3" stroke-linejoin="round">4.21%</text>
<rect x="725.98" y="482.15" width="4.03" height="1.1" fill="#3cc28d" />
<rect x="727.45" y="480.68" width="1.1" height="4.03" fill="#3cc28d" />
<text x="732.7" y="485.4" font-size="7.79" textLength="14.6" lengthAdjust="spacingAndGlyphs" fill="#b3b3b3" style="font-weight:normal" >0.59%</text>
<text x="669.5" y="496.3" font-size="7.79" textLength="14.2" lengthAdjust="spacingAndGlyphs" fill="#858585" style="font-weight:bold"  stroke="#858585" stroke-width="0.3" stroke-linejoin="round">2.30%</text>
<text x="697.7" y="496.3" font-size="7.79" textLength="13.8" lengthAdjust="spacingAndGlyphs" fill="#858585" style="font-weight:bold"  stroke="#858585" stroke-width="0.3" stroke-linejoin="round">2.55%</text>
<rect x="725.98" y="493.05" width="4.03" height="1.1" fill="#3cc28d" />
<rect x="727.45" y="491.58" width="1.1" height="4.03" fill="#3cc28d" />
<text x="732.7" y="496.3" font-size="7.79" textLength="14.6" lengthAdjust="spacingAndGlyphs" fill="#b3b3b3" style="font-weight:normal" >0.25%</text>
<text x="669.5" y="506.7" font-size="7.79" textLength="14.2" lengthAdjust="spacingAndGlyphs" fill="#858585" style="font-weight:bold"  stroke="#858585" stroke-width="0.3" stroke-linejoin="round">1.60%</text>
<text x="697.7" y="506.7" font-size="7.79" textLength="13.8" lengthAdjust="spacingAndGlyphs" fill="#858585" style="font-weight:bold"  stroke="#858585" stroke-width="0.3" stroke-linejoin="round">2.35%</text>
<rect x="725.98" y="503.45" width="4.03" height="1.1" fill="#3cc28d" />
<rect x="727.45" y="501.98" width="1.1" height="4.03" fill="#3cc28d" />
<text x="732.7" y="506.7" font-size="7.79" textLength="14.6" lengthAdjust="spacingAndGlyphs" fill="#b3b3b3" style="font-weight:normal" >0.75%</text>
<clipPath id="l1"><circle cx="656.9" cy="462" r="4.1"/></clipPath>
<g clip-path="url(#l1)">
<rect x="652.8" y="457.9" width="8.2" height="8.2" fill="#ffffff" />
<rect x="652.8" y="457.9" width="8.2" height="0.63" fill="#d6323f" />
<rect x="652.8" y="459.16" width="8.2" height="0.63" fill="#d6323f" />
<rect x="652.8" y="460.42" width="8.2" height="0.63" fill="#d6323f" />
<rect x="652.8" y="461.68" width="8.2" height="0.63" fill="#d6323f" />
<rect x="652.8" y="462.95" width="8.2" height="0.63" fill="#d6323f" />
<rect x="652.8" y="464.21" width="8.2" height="0.63" fill="#d6323f" />
<rect x="652.8" y="465.47" width="8.2" height="0.63" fill="#d6323f" />
<rect x="652.8" y="457.9" width="4.3" height="4.1" fill="#3a4a8c" />
</g>
<clipPath id="l2"><circle cx="656.9" cy="472.4" r="4.1"/></clipPath>
<g clip-path="url(#l2)">
<rect x="652.8" y="468.3" width="8.2" height="8.2" fill="#3b4a8c" />
<path d="M652.8 468.3 L661 476.5 M661 468.3 L652.8 476.5" stroke="#ffffff" stroke-width="1.43"/>
<path d="M652.8 468.3 L661 476.5 M661 468.3 L652.8 476.5" stroke="#d12f3f" stroke-width="0.49"/>
<rect x="652.8" y="471.38" width="8.2" height="2.05" fill="#ffffff" />
<rect x="655.88" y="468.3" width="2.05" height="8.2" fill="#ffffff" />
<rect x="652.8" y="471.87" width="8.2" height="1.07" fill="#d12f3f" />
<rect x="656.37" y="468.3" width="1.07" height="8.2" fill="#d12f3f" />
</g>
<clipPath id="l3"><circle cx="656.9" cy="482.6" r="4.1"/></clipPath>
<g clip-path="url(#l3)">
<rect x="652.8" y="478.5" width="8.2" height="8.2" fill="#ffffff" />
<rect x="652.8" y="478.5" width="2.25" height="8.2" fill="#c8303f" />
<rect x="658.75" y="478.5" width="2.25" height="8.2" fill="#c8303f" />
<polygon points="656.9,480.75 658.13,482.6 657.31,483.01 657.31,484.24 656.49,484.24 656.49,483.01 655.67,482.6" fill="#c8303f" />
</g>
<clipPath id="l4"><circle cx="656.9" cy="493.5" r="4.1"/></clipPath>
<g clip-path="url(#l4)">
<rect x="652.8" y="489.4" width="8.2" height="2.83" fill="#2b2b2b" />
<rect x="652.8" y="492.13" width="8.2" height="2.83" fill="#d42f2f" />
<rect x="652.8" y="494.87" width="8.2" height="2.83" fill="#f4c232" />
</g>
<clipPath id="l5"><circle cx="656.9" cy="503.9" r="4.1"/></clipPath>
<g clip-path="url(#l5)">
<rect x="652.8" y="499.8" width="2.83" height="8.2" fill="#2f4ea0" />
<rect x="655.53" y="499.8" width="2.83" height="8.2" fill="#ffffff" />
<rect x="658.27" y="499.8" width="2.83" height="8.2" fill="#d8323f" />
</g>
<path d="M803.6 426 A4.6 3.9 0 1 1 806 429.4 L803.4 430 Z" fill="#ee7a3a"/>
<circle cx="806.5" cy="425.8" r="0.6" fill="#fbe0cc" />
<circle cx="808.2" cy="425.8" r="0.6" fill="#fbe0cc" />
<circle cx="809.9" cy="425.8" r="0.6" fill="#fbe0cc" />
<text x="816.4" y="430" font-size="10.64" textLength="28.84" lengthAdjust="spacingAndGlyphs" fill="#7a7a7a" style="font-weight:bold" transform="matrix(1,0,-0.23,1,98.9,0)"  stroke="#7a7a7a" stroke-width="0.3" stroke-linejoin="round">LANGUAGE</text>
<text x="794.5" y="451.6" font-size="8.36" textLength="10.43" lengthAdjust="spacingAndGlyphs" fill="#f7d2b8" style="font-weight:bold" transform="matrix(1,0,-0.23,1,103.87,0)"  stroke="#f7d2b8" stroke-width="0.4" stroke-linejoin="round">2018</text>
<text x="822.6" y="451.6" font-size="8.36" textLength="10.63" lengthAdjust="spacingAndGlyphs" fill="#ee8446" style="font-weight:bold" transform="matrix(1,0,-0.23,1,103.87,0)"  stroke="#ee8446" stroke-width="0.45" stroke-linejoin="round">2019</text>
<text x="854.7" y="451.6" font-size="8.36" textLength="6.43" lengthAdjust="spacingAndGlyphs" fill="#e8894e" style="font-weight:bold" transform="matrix(1,0,-0.23,1,103.87,0)"  stroke="#e8894e" stroke-width="0.3" stroke-linejoin="round">+/-</text>
<text x="790.25" y="464.8" font-size="7.79" textLength="17.9" lengthAdjust="spacingAndGlyphs" fill="#858585" style="font-weight:bold"  stroke="#858585" stroke-width="0.3" stroke-linejoin="round">94.59%</text>
<text x="818.9" y="464.8" font-size="7.79" textLength="16.6" lengthAdjust="spacingAndGlyphs" fill="#858585" style="font-weight:bold"  stroke="#858585" stroke-width="0.3" stroke-linejoin="round">82.27%</text>
<rect x="845.4" y="461.58" width="4.9" height="1.05" fill="#cf5468" />
<text x="852.8" y="464.8" font-size="7.79" textLength="15" lengthAdjust="spacingAndGlyphs" fill="#b3b3b3" style="font-weight:normal" >2.29%</text>
<text x="792.4" y="475.2" font-size="7.79" textLength="13.6" lengthAdjust="spacingAndGlyphs" fill="#858585" style="font-weight:bold"  stroke="#858585" stroke-width="0.3" stroke-linejoin="round">1.43%</text>
<text x="819.9" y="475.2" font-size="7.79" textLength="14.6" lengthAdjust="spacingAndGlyphs" fill="#858585" style="font-weight:bold"  stroke="#858585" stroke-width="0.3" stroke-linejoin="round">2.67%</text>
<rect x="845.79" y="471.95" width="4.12" height="1.1" fill="#3cc28d" />
<rect x="847.3" y="470.44" width="1.1" height="4.12" fill="#3cc28d" />
<text x="852.8" y="475.2" font-size="7.79" textLength="15" lengthAdjust="spacingAndGlyphs" fill="#b3b3b3" style="font-weight:normal" >1.24%</text>
<text x="792.4" y="485.4" font-size="7.79" textLength="13.6" lengthAdjust="spacingAndGlyphs" fill="#858585" style="font-weight:bold"  stroke="#858585" stroke-width="0.3" stroke-linejoin="round">1.34%</text>
<text x="819.9" y="485.4" font-size="7.79" textLength="14.6" lengthAdjust="spacingAndGlyphs" fill="#858585" style="font-weight:bold"  stroke="#858585" stroke-width="0.3" stroke-linejoin="round">2.29%</text>
<rect x="845.79" y="482.15" width="4.12" height="1.1" fill="#3cc28d" />
<rect x="847.3" y="480.64" width="1.1" height="4.12" fill="#3cc28d" />
<text x="852.8" y="485.4" font-size="7.79" textLength="15" lengthAdjust="spacingAndGlyphs" fill="#b3b3b3" style="font-weight:normal" >0.95%</text>
<text x="792.4" y="496.3" font-size="7.79" textLength="13.6" lengthAdjust="spacingAndGlyphs" fill="#858585" style="font-weight:bold"  stroke="#858585" stroke-width="0.3" stroke-linejoin="round">1.91%</text>
<text x="819.9" y="496.3" font-size="7.79" textLength="14.6" lengthAdjust="spacingAndGlyphs" fill="#858585" style="font-weight:bold"  stroke="#858585" stroke-width="0.3" stroke-linejoin="round">2.23%</text>
<rect x="845.79" y="493.05" width="4.12" height="1.1" fill="#3cc28d" />
<rect x="847.3" y="491.54" width="1.1" height="4.12" fill="#3cc28d" />
<text x="852.8" y="496.3" font-size="7.79" textLength="15" lengthAdjust="spacingAndGlyphs" fill="#b3b3b3" style="font-weight:normal" >0.32%</text>
<text x="792.4" y="506.7" font-size="7.79" textLength="13.6" lengthAdjust="spacingAndGlyphs" fill="#858585" style="font-weight:bold"  stroke="#858585" stroke-width="0.3" stroke-linejoin="round">1.58%</text>
<text x="819.9" y="506.7" font-size="7.79" textLength="14.6" lengthAdjust="spacingAndGlyphs" fill="#858585" style="font-weight:bold"  stroke="#858585" stroke-width="0.3" stroke-linejoin="round">2.20%</text>
<rect x="845.79" y="503.45" width="4.12" height="1.1" fill="#3cc28d" />
<rect x="847.3" y="501.94" width="1.1" height="4.12" fill="#3cc28d" />
<text x="852.8" y="506.7" font-size="7.79" textLength="15" lengthAdjust="spacingAndGlyphs" fill="#b3b3b3" style="font-weight:normal" >0.62%</text>
<clipPath id="g1"><circle cx="779.2" cy="462" r="4.1"/></clipPath>
<g clip-path="url(#g1)">
<rect x="775.1" y="457.9" width="8.2" height="8.2" fill="#3b4a8c" />
<path d="M775.1 457.9 L783.3 466.1 M783.3 457.9 L775.1 466.1" stroke="#ffffff" stroke-width="1.43"/>
<path d="M775.1 457.9 L783.3 466.1 M783.3 457.9 L775.1 466.1" stroke="#d12f3f" stroke-width="0.49"/>
<rect x="775.1" y="460.98" width="8.2" height="2.05" fill="#ffffff" />
<rect x="778.18" y="457.9" width="2.05" height="8.2" fill="#ffffff" />
<rect x="775.1" y="461.47" width="8.2" height="1.07" fill="#d12f3f" />
<rect x="778.67" y="457.9" width="1.07" height="8.2" fill="#d12f3f" />
</g>
<clipPath id="g2"><circle cx="779.2" cy="472.4" r="4.1"/></clipPath>
<g clip-path="url(#g2)">
<rect x="775.1" y="468.3" width="8.2" height="8.2" fill="#c8303f" />
<rect x="775.1" y="470.35" width="8.2" height="4.1" fill="#f2c230" />
</g>
<clipPath id="g3"><circle cx="779.2" cy="482.6" r="4.1"/></clipPath>
<g clip-path="url(#g3)">
<rect x="775.1" y="478.5" width="8.2" height="8.2" fill="#d1303a" />
<rect x="775.1" y="478.5" width="3.28" height="8.2" fill="#3f8a3a" />
<circle cx="778.38" cy="482.6" r="1.43" fill="#f2c230" />
</g>
<clipPath id="g4"><circle cx="779.2" cy="493.5" r="4.1"/></clipPath>
<g clip-path="url(#g4)">
<rect x="775.1" y="489.4" width="8.2" height="2.83" fill="#2b2b2b" />
<rect x="775.1" y="492.13" width="8.2" height="2.83" fill="#d42f2f" />
<rect x="775.1" y="494.87" width="8.2" height="2.83" fill="#f4c232" />
</g>
<clipPath id="g5"><circle cx="779.2" cy="503.9" r="4.1"/></clipPath>
<g clip-path="url(#g5)">
<rect x="775.1" y="499.8" width="2.83" height="8.2" fill="#2f4ea0" />
<rect x="777.83" y="499.8" width="2.83" height="8.2" fill="#ffffff" />
<rect x="780.57" y="499.8" width="2.83" height="8.2" fill="#d8323f" />
</g>
<rect x="921.2" y="421.4" width="7.6" height="9" fill="#ee7a3a" rx="1" />
<rect x="923" y="423.6" width="4" height="4.6" fill="#f9c9a8" />
<text x="934.9" y="430" font-size="10.07" textLength="19.09" lengthAdjust="spacingAndGlyphs" fill="#7a7a7a" style="font-weight:bold" transform="matrix(1,0,-0.23,1,98.9,0)"  stroke="#7a7a7a" stroke-width="0.3" stroke-linejoin="round">DEVICE</text>
<text x="915.8" y="451.6" font-size="7.64" textLength="10.08" lengthAdjust="spacingAndGlyphs" fill="#f7d2b8" style="font-weight:bold" transform="matrix(1,0,-0.23,1,103.87,0)"  stroke="#f7d2b8" stroke-width="0.4" stroke-linejoin="round">2018</text>
<text x="944" y="451.6" font-size="7.64" textLength="10.48" lengthAdjust="spacingAndGlyphs" fill="#ee8446" style="font-weight:bold" transform="matrix(1,0,-0.23,1,103.87,0)"  stroke="#ee8446" stroke-width="0.45" stroke-linejoin="round">2019</text>
<text x="969.9" y="451.6" font-size="7.64" textLength="7.98" lengthAdjust="spacingAndGlyphs" fill="#e8894e" style="font-weight:bold" transform="matrix(1,0,-0.23,1,103.87,0)"  stroke="#e8894e" stroke-width="0.3" stroke-linejoin="round">+/-</text>
<rect x="893.6" y="460" width="11.4" height="8.4" fill="none" />
<rect x="894.1" y="460.3" width="10.6" height="7.6" rx="0.6" fill="none" stroke="#ee7a3a" stroke-width="1.3"/>
<polygon points="897.8,468 901,468 901.8,470.2 897,470.2" fill="#ee7a3a" />
<rect x="896" y="470" width="6.8" height="1.1" fill="#ee7a3a" />
<rect x="894.3" y="480.8" width="9.8" height="7.4" rx="0.6" fill="none" stroke="#ee7a3a" stroke-width="1.2"/>
<rect x="897.4" y="498.1" width="4" height="8.9" rx="0.6" fill="none" stroke="#ee7a3a" stroke-width="1.1"/>
<text x="912.6" y="467.9" font-size="8.21" textLength="16.8" lengthAdjust="spacingAndGlyphs" fill="#858585" style="font-weight:bold"  stroke="#858585" stroke-width="0.3" stroke-linejoin="round">48.88%</text>
<text x="938.8" y="467.9" font-size="8.21" textLength="17.2" lengthAdjust="spacingAndGlyphs" fill="#858585" style="font-weight:bold"  stroke="#858585" stroke-width="0.3" stroke-linejoin="round">49.09%</text>
<rect x="963.3" y="464.5" width="3.19" height="1.1" fill="#3cc28d" />
<rect x="964.35" y="463.45" width="1.1" height="3.19" fill="#3cc28d" />
<text x="969.2" y="467.9" font-size="8.21" textLength="14.9" lengthAdjust="spacingAndGlyphs" fill="#b3b3b3" style="font-weight:normal" >0.21%</text>
<text x="912.6" y="487.9" font-size="8.21" textLength="16.8" lengthAdjust="spacingAndGlyphs" fill="#858585" style="font-weight:bold"  stroke="#858585" stroke-width="0.3" stroke-linejoin="round">48.80%</text>
<text x="938.8" y="487.9" font-size="8.21" textLength="17.2" lengthAdjust="spacingAndGlyphs" fill="#858585" style="font-weight:bold"  stroke="#858585" stroke-width="0.3" stroke-linejoin="round">48.88%</text>
<rect x="963.3" y="484.5" width="3.19" height="1.1" fill="#3cc28d" />
<rect x="964.35" y="483.45" width="1.1" height="3.19" fill="#3cc28d" />
<text x="969.2" y="487.9" font-size="8.21" textLength="14.9" lengthAdjust="spacingAndGlyphs" fill="#b3b3b3" style="font-weight:normal" >0.08%</text>
<text x="913.65" y="506.8" font-size="8.36" textLength="14.7" lengthAdjust="spacingAndGlyphs" fill="#858585" style="font-weight:bold"  stroke="#858585" stroke-width="0.3" stroke-linejoin="round">2.34%</text>
<text x="940.5" y="506.8" font-size="8.36" textLength="13.8" lengthAdjust="spacingAndGlyphs" fill="#858585" style="font-weight:bold"  stroke="#858585" stroke-width="0.3" stroke-linejoin="round">1.97%</text>
<rect x="963" y="503.38" width="3.8" height="1.05" fill="#cf5468" />
<text x="969.2" y="506.8" font-size="8.36" textLength="14.9" lengthAdjust="spacingAndGlyphs" fill="#b3b3b3" style="font-weight:normal" >0.37%</text>
<rect x="44.8" y="539.2" width="10.2" height="10" fill="#f4c7a0" />
<polygon points="44.8,539.2 47.86,539.2 49,543.3 44.8,542.2" fill="#cf7a3a" />
<polygon points="55,539.2 51.94,539.2 50.8,543.3 55,542.2" fill="#cf7a3a" />
<polygon points="44.8,549.2 47.86,549.2 49,545.1 44.8,546.2" fill="#cf7a3a" />
<polygon points="55,549.2 51.94,549.2 50.8,545.1 55,546.2" fill="#cf7a3a" />
<text x="59.4" y="547.8" font-size="10.21" textLength="45.25" lengthAdjust="spacingAndGlyphs" fill="#3b3b3b" style="font-weight:bold" transform="matrix(1,0,-0.23,1,125.99,0)"  stroke="#3b3b3b" stroke-width="0.3" stroke-linejoin="round">Hitmarker</text>
<circle cx="779.6" cy="544.6" r="3.3" fill="#ee8a4c" />
<path d="M776.3 544.6 h6.6 M779.6 541.3 v6.6" stroke="#fbe0cc" stroke-width="0.5"/>
<text x="786" y="547.2" font-size="6.18" textLength="46.2" lengthAdjust="spacingAndGlyphs" fill="#4a4a4a" style="font-weight:bold" >Hitmarkerjobs.com</text>
<line x1="842.6" y1="536" x2="842.6" y2="554" stroke="#eeeeee" stroke-width="0.8"/>
<path d="M851 542.6 q1.6 1.6 3.4 1.4 q-0.2 -2.2 1.8 -2.6 q1 0 1.6 0.6 l1.2 -0.5 -0.6 1 q0 4 -4 5.6 q-2.4 0.6 -4.2 -0.6 q1.6 0 2.6 -0.8 q-1.6 -0.2 -2 -1.4 q0.6 0 0.8 -0.2 q-1.6 -0.6 -1.6 -2.2 q0.4 0.2 0.8 0.2 q-0.9 -0.4 -0.8 -0.5z" fill="#ee8a4c"/>
<text x="860.2" y="547.4" font-size="6.46" textLength="39.2" lengthAdjust="spacingAndGlyphs" fill="#4a4a4a" style="font-weight:bold" >@Hitmarkerjobs</text>
<line x1="907.8" y1="536" x2="907.8" y2="554" stroke="#eeeeee" stroke-width="0.8"/>
<rect x="916" y="542.2" width="6.6" height="5" fill="#ee8a4c" rx="0.6" />
<path d="M916.2 542.6 L919.3 545 L922.4 542.6" fill="none" stroke="#fbe0cc" stroke-width="0.6"/>
<text x="926" y="547.4" font-size="6.46" textLength="59.3" lengthAdjust="spacingAndGlyphs" fill="#4a4a4a" style="font-weight:bold" >info@hitmarkerjobs.com</text>
</svg>
</body></html>
